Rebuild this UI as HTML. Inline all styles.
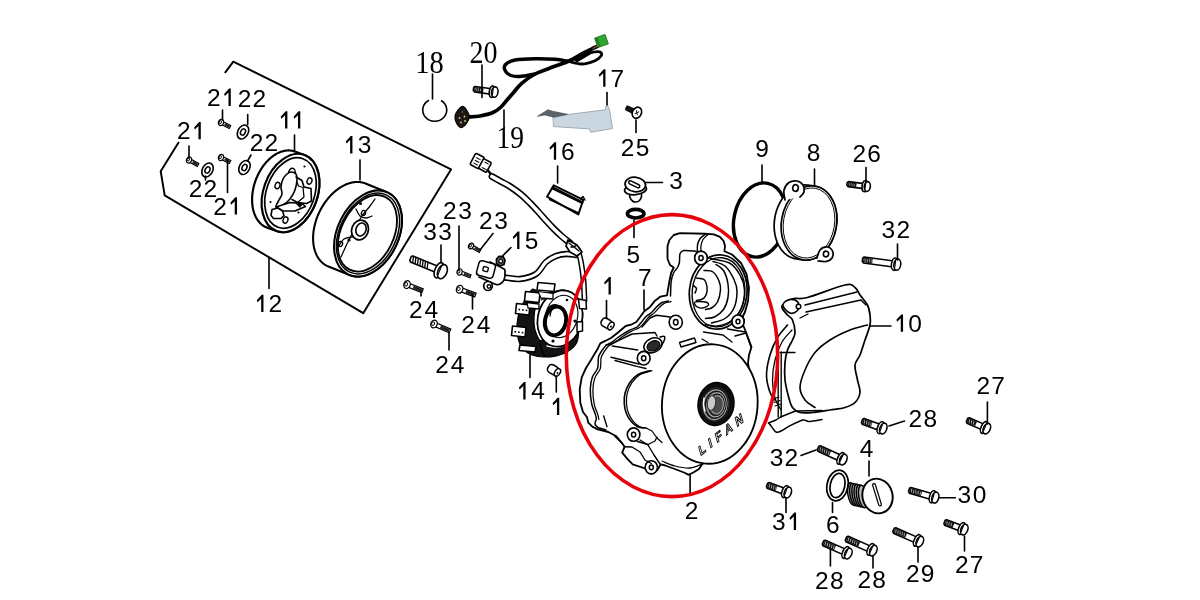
<!DOCTYPE html>
<html><head><meta charset="utf-8"><style>
html,body{margin:0;padding:0;background:#fff;}
svg{display:block;} text{-webkit-font-smoothing:antialiased;}
</style></head><body>
<svg width="1200" height="600" viewBox="0 0 1200 600" font-family="Liberation Sans, sans-serif" style="will-change:transform">
<rect width="1200" height="600" fill="#fff"/>
<path d="M225.3 72.3 L233.3 61.7 L451 169.4 L363.2 313.2 L164.7 195.3 L160.7 171.3 L178.4 142.7" fill="none" stroke="#000" stroke-width="1.95" stroke-linejoin="round" stroke-linecap="round" />
<path d="M429 100.2 A12 11.2 0 1 0 441 100.5" fill="none" stroke="#000" stroke-width="1.6"/>
<path d="M468 117 C470 116.83 475.83 116.75 480 116 C484.17 115.25 489.5 114 493 112.5 C496.5 111 498.67 109.08 501 107 C503.33 104.92 504.83 102.5 507 100 C509.17 97.5 511.55 94.78 514 92 C516.45 89.22 518.2 86.3 521.7 83.3 C525.2 80.3 530.57 76.43 535 74 C539.43 71.57 542.75 70.82 548.3 68.7 C553.85 66.58 562.73 63.75 568.3 61.3 C573.87 58.85 577.92 56 581.7 54 C585.48 52 588.45 50.55 591 49.3 C593.55 48.05 596 46.97 597 46.5" fill="none" stroke="#000" stroke-width="3.68" stroke-linejoin="round" stroke-linecap="round" />
<path d="M568.3 61.3 C566.08 60.97 560.55 59.73 555 59.3 C549.45 58.87 541.67 58.58 535 58.7 C528.33 58.82 519.67 59.23 515 60 C510.33 60.77 508.78 62.13 507 63.3 C505.22 64.47 504.47 65.55 504.3 67 C504.13 68.45 504.88 70.58 506 72 C507.12 73.42 509 74.75 511 75.5 C513 76.25 515.12 76.53 518 76.5 C520.88 76.47 525.47 75.72 528.3 75.3 C531.13 74.88 533.88 74.22 535 74" fill="none" stroke="#000" stroke-width="3.45" stroke-linejoin="round" stroke-linecap="round" />
<path d="M568.3 61.3 C570.53 61.75 577.25 64.1 581.7 64 C586.15 63.9 591.75 62.07 595 60.7 C598.25 59.33 600.28 57.22 601.2 55.8 C602.12 54.38 601.7 52.83 600.5 52.2 C599.3 51.57 597.13 51.48 594 52 C590.87 52.52 585.98 53.75 581.7 55.3 C577.42 56.85 570.53 60.3 568.3 61.3" fill="none" stroke="#000" stroke-width="2.76" stroke-linejoin="round" stroke-linecap="round" />
<path d="M574 59 L590 50 L592 52.5 L577 61.5Z" fill="#000" stroke="#000" stroke-width="1.72" stroke-linejoin="round" stroke-linecap="round" />
<path d="M462.8 106.3 C464.22 106.3 465.42 108.3 466.5 110 C467.58 111.7 469.3 114.25 469.3 116.5 C469.3 118.75 467.88 121.65 466.5 123.5 C465.12 125.35 462.67 127.68 461 127.6 C459.33 127.52 457.5 124.93 456.5 123 C455.5 121.07 454.75 118.17 455 116 C455.25 113.83 456.7 111.62 458 110 C459.3 108.38 461.38 106.3 462.8 106.3Z" fill="#1d1812" stroke="#000" stroke-width="1.15" stroke-linejoin="round" stroke-linecap="round" />
<circle cx="459.5" cy="118" r="0.9" fill="#d8c98a"/><circle cx="464.5" cy="116.5" r="0.9" fill="#d8c98a"/><circle cx="461" cy="122.5" r="0.9" fill="#d8c98a"/><circle cx="465" cy="121" r="0.9" fill="#d8c98a"/><circle cx="462.5" cy="112" r="0.8" fill="#7a6a4a"/>
<g transform="translate(601.5 41) rotate(-20)"><rect x="-5.5" y="-5" width="11" height="10" fill="#2fa52f" stroke="#1b6e1b" stroke-width="0.8"/><rect x="-5.5" y="-5" width="3" height="10" fill="#1f7f1f"/></g>
<path d="M593 48.5 L598 45.5" fill="none" stroke="#8a5a3a" stroke-width="1.38" stroke-linejoin="round" stroke-linecap="round" />
<path d="M553.25 116.5 L567.5 114.6 L605.75 109.75 L605.75 106 L608 106 L609.5 109.75 L612.5 128.5 L590.75 132.25 L589.25 128.9 L554 126.6Z" fill="#cbd7e0" stroke="#97a5b1" stroke-width="0.92" stroke-linejoin="round" stroke-linecap="round" />
<path d="M537.9 116.1 L548 109.75 L552.5 111.25 L567.5 114.25 L554 117.25 L545 115Z" fill="#5d646c" stroke="#444a50" stroke-width="0.69" stroke-linejoin="round" stroke-linecap="round" />
<g transform="translate(631 110) rotate(25)"><rect x="-6" y="-2.8" width="10" height="5.6" rx="2" fill="#111"/><ellipse cx="6.5" cy="0" rx="4.5" ry="5.8" fill="#fff" stroke="#000" stroke-width="1.6"/><path d="M5 -2 L8 2 M5 2 L8 -2" stroke="#000" stroke-width="0.9"/></g>
<path d="M553.75 185.3 L583.3 199.8 L578.3 214.5 L547 196.7Z" fill="#fff" stroke="#000" stroke-width="1.95" stroke-linejoin="round" stroke-linecap="round" />
<path d="M553 188.2 L582 202.5" fill="none" stroke="#000" stroke-width="2.99" stroke-linejoin="round" stroke-linecap="round" />
<path d="M549.5 199.5 L577.5 212.5" fill="none" stroke="#000" stroke-width="1.49" stroke-linejoin="round" stroke-linecap="round" />
<path d="M580.5 199 L583 196.5 L585 200" fill="none" stroke="#000" stroke-width="1.49" stroke-linejoin="round" stroke-linecap="round" />
<g transform="translate(481 163.5) rotate(28)"><rect x="-9.5" y="-6.8" width="10" height="12.8" rx="1.5" fill="#fff" stroke="#000" stroke-width="1.6"/><rect x="0" y="-5.6" width="9" height="11" rx="1.2" fill="#fff" stroke="#000" stroke-width="1.6"/><path d="M-7 -3 L-2 -3 M-7 0 L-2 0 M-7 3 L-2 3 M2.5 -3 L7 -3 M2.5 3 L7 3" stroke="#000" stroke-width="1"/></g>
<path d="M487.5 170 L493 176.5" fill="none" stroke="#000" stroke-width="2.53" stroke-linejoin="round" stroke-linecap="round" />
<path d="M492 176.5 C493.33 177.25 497 179.33 500 181 C503 182.67 506.5 184.25 510 186.5 C513.5 188.75 517.67 191.75 521 194.5 C524.33 197.25 527.17 200.17 530 203 C532.83 205.83 535.33 208.58 538 211.5 C540.67 214.42 543.33 217.58 546 220.5 C548.67 223.42 551.33 226.33 554 229 C556.67 231.67 559.33 234.17 562 236.5 C564.67 238.83 568.67 241.92 570 243" fill="none" stroke="#000" stroke-width="6.9" stroke-linejoin="round" stroke-linecap="round" />
<path d="M492 176.5 C493.33 177.25 497 179.33 500 181 C503 182.67 506.5 184.25 510 186.5 C513.5 188.75 517.67 191.75 521 194.5 C524.33 197.25 527.17 200.17 530 203 C532.83 205.83 535.33 208.58 538 211.5 C540.67 214.42 543.33 217.58 546 220.5 C548.67 223.42 551.33 226.33 554 229 C556.67 231.67 559.33 234.17 562 236.5 C564.67 238.83 568.67 241.92 570 243" fill="none" stroke="#fff" stroke-width="3.68" stroke-linejoin="round" stroke-linecap="round" />
<path d="M505 277.5 C507.5 277.75 514.83 279.58 520 279 C525.17 278.42 531.67 276.83 536 274 C540.33 271.17 542.67 265 546 262 C549.33 259 552.67 257.33 556 256 C559.33 254.67 562.67 254.17 566 254 C569.33 253.83 574.33 254.83 576 255" fill="none" stroke="#000" stroke-width="6.32" stroke-linejoin="round" stroke-linecap="round" />
<path d="M505 277.5 C507.5 277.75 514.83 279.58 520 279 C525.17 278.42 531.67 276.83 536 274 C540.33 271.17 542.67 265 546 262 C549.33 259 552.67 257.33 556 256 C559.33 254.67 562.67 254.17 566 254 C569.33 253.83 574.33 254.83 576 255" fill="none" stroke="#fff" stroke-width="3.22" stroke-linejoin="round" stroke-linecap="round" />
<path d="M578 250 C578.5 252 580.08 257 581 262 C581.92 267 582.92 273.67 583.5 280 C584.08 286.33 584.33 296.67 584.5 300" fill="none" stroke="#000" stroke-width="5.75" stroke-linejoin="round" stroke-linecap="round" />
<path d="M578 250 C578.5 252 580.08 257 581 262 C581.92 267 582.92 273.67 583.5 280 C584.08 286.33 584.33 296.67 584.5 300" fill="none" stroke="#fff" stroke-width="2.76" stroke-linejoin="round" stroke-linecap="round" />
<path d="M568 240 L577 245 L582 252 L577 256 L570 252 L566 246Z" fill="#fff" stroke="#000" stroke-width="1.72" stroke-linejoin="round" stroke-linecap="round" />
<path d="M569 243 L579 251 M571 247 L576 246" fill="none" stroke="#000" stroke-width="1.38" stroke-linejoin="round" stroke-linecap="round" />
<path d="M490 262 C492.17 263.08 500.5 267 503 268.5 C505.5 270 504.83 269.08 505 271 C505.17 272.92 504.83 277.83 504 280 C503.17 282.17 501.33 283.25 500 284 C498.67 284.75 498 285 496 284.5 C494 284 490.83 282.25 488 281 C485.17 279.75 480.5 277.67 479 277" fill="#fff" stroke="#000" stroke-width="1.72" stroke-linejoin="round" stroke-linecap="round" />
<g transform="translate(486 269.5) rotate(15)"><rect x="-8.5" y="-7.5" width="17" height="15" rx="3" fill="#fff" stroke="#000" stroke-width="1.5"/><rect x="-3" y="-2.5" width="5" height="4.5" rx="1" fill="#fff" stroke="#000" stroke-width="1.4"/></g>
<path d="M496.5 259 L499 256.3 L503 256.5 L505 260 L504 264.5 L500 266 L496.5 263.5Z" fill="#777" stroke="#000" stroke-width="1.72" stroke-linejoin="round" stroke-linecap="round" />
<ellipse cx="500.7" cy="261.2" rx="1.8" ry="2" fill="#fff" stroke="#000" stroke-width="1.26"/>
<ellipse cx="488" cy="286" rx="4.3" ry="4.5" fill="#fff" stroke="#000" stroke-width="1.72"/>
<ellipse cx="489" cy="286.5" rx="1.8" ry="1.8" fill="#fff" stroke="#000" stroke-width="1.38"/>
<g transform="translate(607 323.5) rotate(32)"><rect x="-6" y="-4.3" width="11" height="8.6" rx="3.5" fill="#fff" stroke="#000" stroke-width="1.6"/><ellipse cx="4.6" cy="0" rx="2.6" ry="4.2" fill="#fff" stroke="#000" stroke-width="1.5"/><circle cx="5" cy="0.5" r="1" fill="#000"/></g>
<g transform="translate(553.5 370) rotate(32)"><rect x="-6" y="-4.3" width="11" height="8.6" rx="3.5" fill="#fff" stroke="#000" stroke-width="1.6"/><ellipse cx="4.6" cy="0" rx="2.6" ry="4.2" fill="#fff" stroke="#000" stroke-width="1.5"/><circle cx="5" cy="0.5" r="1" fill="#000"/></g>
<path d="M630 193 C629.97 193.67 629.38 195.67 629.8 197 C630.22 198.33 631.47 200.17 632.5 201 C633.53 201.83 634.83 202.08 636 202 C637.17 201.92 638.58 201.42 639.5 200.5 C640.42 199.58 641.22 197.75 641.5 196.5 C641.78 195.25 641.25 193.58 641.2 193" fill="#fff" stroke="#000" stroke-width="1.61" stroke-linejoin="round" stroke-linecap="round" />
<ellipse cx="635.5" cy="189.5" rx="11" ry="5.2" fill="#fff" stroke="#000" stroke-width="1.72" transform="rotate(-6 635.5 189.5)"/>
<ellipse cx="635.3" cy="184.5" rx="10.3" ry="7.2" fill="#fff" stroke="#000" stroke-width="1.72" transform="rotate(8 635.3 184.5)"/>
<g transform="translate(634.2 184.3) rotate(26)"><rect x="-6" y="-1.6" width="12" height="3.2" rx="1.6" fill="#fff" stroke="#000" stroke-width="1.5"/></g>
<ellipse cx="635.7" cy="213.7" rx="8.2" ry="4.3" fill="none" stroke="#000" stroke-width="3.68"/>
<ellipse cx="760" cy="220" rx="26" ry="37.5" fill="none" stroke="#000" stroke-width="3.45" transform="rotate(12 760 220)"/>
<path d="M803 259.81 L796 258.81 L795.52 258.73 L795.05 258.64 L794.58 258.54 L794.11 258.43 L793.65 258.31 L793.19 258.18 L792.73 258.03 L792.27 257.88 L791.82 257.71 L791.37 257.53 L790.92 257.35 L790.47 257.15 L790.03 256.94 L789.6 256.72 L789.16 256.49 L788.73 256.25 L788.31 255.99 L787.89 255.73 L787.47 255.46 L787.06 255.18 L786.65 254.88 L786.25 254.58 L785.85 254.27 L785.46 253.95 L785.07 253.62 L784.68 253.27 L784.31 252.92 L783.93 252.56 L783.57 252.19 L783.21 251.81 L782.85 251.42 L782.5 251.03 L782.16 250.62 L781.82 250.21 L781.49 249.78 L781.16 249.35 L780.84 248.91 L780.53 248.46 L780.22 248.01 L779.92 247.54 L779.63 247.07 L779.34 246.59 L779.07 246.1 L778.79 245.61 L778.53 245.11 L778.27 244.6 L778.02 244.08 L777.78 243.56 L777.54 243.03 L777.31 242.5 L777.09 241.95 L776.88 241.41 L776.67 240.85 L776.47 240.29 L776.28 239.73 L776.1 239.16 L775.93 238.58 L775.76 238 L775.6 237.42 L775.45 236.83 L775.31 236.23 L775.17 235.63 L775.05 235.03 L774.93 234.42 L774.82 233.81 L774.72 233.2 L774.62 232.58 L774.54 231.96 L774.46 231.33 L774.4 230.71 L774.34 230.08 L774.28 229.44 L774.24 228.81 L774.21 228.17 L774.18 227.53 L774.16 226.89 L774.16 226.25 L774.15 225.61 L774.16 224.97 L774.18 224.32 L774.2 223.68 L774.24 223.03 L774.28 222.38 L774.33 221.74 L774.39 221.09 L774.46 220.44 L774.53 219.8 L774.62 219.15 L774.71 218.51 L774.81 217.87 L774.92 217.22 L775.03 216.58 L775.16 215.95 L775.29 215.31 L775.44 214.67 L775.59 214.04 L775.74 213.41 L775.91 212.78 L776.08 212.16 L776.26 211.54 L776.45 210.92 L776.65 210.3 L776.86 209.69 L777.07 209.08 L777.29 208.48 L777.52 207.88 L777.75 207.28 L777.99 206.69 L778.24 206.11 L778.5 205.53 L778.77 204.95 L779.04 204.38 L779.32 203.81 L779.6 203.25 L779.89 202.7 L780.19 202.15 L780.5 201.61 L780.81 201.07 L781.13 200.54 L781.45 200.01 L781.78 199.5 L782.12 198.99 L782.47 198.48 L782.81 197.99 L783.17 197.5 L783.53 197.02 L783.9 196.55 L784.27 196.08 L784.65 195.62 L785.03 195.17 L785.42 194.73 L785.81 194.3 L786.21 193.87 L786.61 193.46 L787.02 193.05 L787.43 192.65 L787.85 192.26 L788.27 191.88 L788.69 191.51 L789.12 191.14 L789.55 190.79 L789.99 190.45 L790.43 190.11 L790.87 189.79 L791.32 189.48 L791.77 189.17 L792.23 188.88 L792.68 188.59 L793.14 188.32 L793.6 188.05 L794.07 187.8 L794.54 187.56 L795 187.32 L795.48 187.1 L795.95 186.89 L796.42 186.69 L796.9 186.5 L797.38 186.32 L797.86 186.15 L798.34 186 L798.82 185.85 L799.31 185.71 L799.79 185.59 L800.28 185.48 L800.76 185.37 L801.25 185.28 L801.73 185.2 L802.22 185.13 L802.7 185.08 L803.19 185.03 L803.68 185 L804.16 184.97 L804.64 184.96 L805.13 184.96 L805.61 184.97 L806.09 184.99 L806.57 185.02 L807.05 185.07 L807.53 185.12 L808 185.19 L815 186.19 L815.48 186.27 L815.95 186.36 L816.42 186.46 L816.89 186.57 L817.35 186.69 L817.81 186.82 L818.27 186.97 L818.73 187.12 L819.18 187.29 L819.63 187.47 L820.08 187.65 L820.53 187.85 L820.97 188.06 L821.4 188.28 L821.84 188.51 L822.27 188.75 L822.69 189.01 L823.11 189.27 L823.53 189.54 L823.94 189.82 L824.35 190.12 L824.75 190.42 L825.15 190.73 L825.54 191.05 L825.93 191.38 L826.32 191.73 L826.69 192.08 L827.07 192.44 L827.43 192.81 L827.79 193.19 L828.15 193.58 L828.5 193.97 L828.84 194.38 L829.18 194.79 L829.51 195.22 L829.84 195.65 L830.16 196.09 L830.47 196.54 L830.78 196.99 L831.08 197.46 L831.37 197.93 L831.66 198.41 L831.93 198.9 L832.21 199.39 L832.47 199.89 L832.73 200.4 L832.98 200.92 L833.22 201.44 L833.46 201.97 L833.69 202.5 L833.91 203.05 L834.12 203.59 L834.33 204.15 L834.53 204.71 L834.72 205.27 L834.9 205.84 L835.07 206.42 L835.24 207 L835.4 207.58 L835.55 208.17 L835.69 208.77 L835.83 209.37 L835.95 209.97 L836.07 210.58 L836.18 211.19 L836.28 211.8 L836.38 212.42 L836.46 213.04 L836.54 213.67 L836.6 214.29 L836.66 214.92 L836.72 215.56 L836.76 216.19 L836.79 216.83 L836.82 217.47 L836.84 218.11 L836.84 218.75 L836.85 219.39 L836.84 220.03 L836.82 220.68 L836.8 221.32 L836.76 221.97 L836.72 222.62 L836.67 223.26 L836.61 223.91 L836.54 224.56 L836.47 225.2 L836.38 225.85 L836.29 226.49 L836.19 227.13 L836.08 227.78 L835.97 228.42 L835.84 229.05 L835.71 229.69 L835.56 230.33 L835.41 230.96 L835.26 231.59 L835.09 232.22 L834.92 232.84 L834.74 233.46 L834.55 234.08 L834.35 234.7 L834.14 235.31 L833.93 235.92 L833.71 236.52 L833.48 237.12 L833.25 237.72 L833.01 238.31 L832.76 238.89 L832.5 239.47 L832.23 240.05 L831.96 240.62 L831.68 241.19 L831.4 241.75 L831.11 242.3 L830.81 242.85 L830.5 243.39 L830.19 243.93 L829.87 244.46 L829.55 244.99 L829.22 245.5 L828.88 246.01 L828.53 246.52 L828.19 247.01 L827.83 247.5 L827.47 247.98 L827.1 248.45 L826.73 248.92 L826.35 249.38 L825.97 249.83 L825.58 250.27 L825.19 250.7 L824.79 251.13 L824.39 251.54 L823.98 251.95 L823.57 252.35 L823.15 252.74 L822.73 253.12 L822.31 253.49 L821.88 253.86 L821.45 254.21 L821.01 254.55 L820.57 254.89 L820.13 255.21 L819.68 255.52 L819.23 255.83 L818.77 256.12 L818.32 256.41 L817.86 256.68 L817.4 256.95 L816.93 257.2 L816.46 257.44 L816 257.68 L815.52 257.9 L815.05 258.11 L814.58 258.31 L814.1 258.5 L813.62 258.68 L813.14 258.85 L812.66 259 L812.18 259.15 L811.69 259.29 L811.21 259.41 L810.72 259.52 L810.24 259.63 L809.75 259.72 L809.27 259.8 L808.78 259.87 L808.3 259.92 L807.81 259.97 L807.32 260 L806.84 260.03 L806.36 260.04 L805.87 260.04 L805.39 260.03 L804.91 260.01 L804.43 259.98 L803.95 259.93 L803.47 259.88Z" fill="#fff" stroke="#000" stroke-width="1.72" stroke-linejoin="round" stroke-linecap="round" />
<ellipse cx="809" cy="223" rx="27.5" ry="37.3" fill="#fff" stroke="#000" stroke-width="1.72" transform="rotate(10 809 223)"/>
<ellipse cx="809" cy="223" rx="25.5" ry="35.3" fill="none" stroke="#000" stroke-width="0.92" transform="rotate(10 809 223)"/>
<path d="M785 200 C784.83 198.33 783.33 192.92 784 190 C784.67 187.08 786.83 184 789 182.5 C791.17 181 794.67 180.58 797 181 C799.33 181.42 801.83 183.17 803 185 C804.17 186.83 804.5 190 804 192 C803.5 194 800.67 196.17 800 197" fill="#fff" stroke="#000" stroke-width="1.72" stroke-linejoin="round" stroke-linecap="round" />
<ellipse cx="795.5" cy="188" rx="2.8" ry="3.3" fill="#fff" stroke="#000" stroke-width="1.61" transform="rotate(10 795.5 188)"/>
<path d="M817 258 C817.5 256.67 818.33 251.83 820 250 C821.67 248.17 824.92 246.83 827 247 C829.08 247.17 831.67 249.17 832.5 251 C833.33 252.83 833.08 256.25 832 258 C830.92 259.75 828.33 261 826 261.5 C823.67 262 819.33 261.08 818 261" fill="#fff" stroke="#000" stroke-width="1.72" stroke-linejoin="round" stroke-linecap="round" />
<ellipse cx="826" cy="254" rx="2.6" ry="2.8" fill="#fff" stroke="#000" stroke-width="1.61" transform="rotate(10 826 254)"/>
<path d="M787.5 325 C785.83 327.08 780.42 332.5 777.5 337.5 C774.58 342.5 771.83 348.75 770 355 C768.17 361.25 766.58 369 766.5 375 C766.42 381 768.17 386.83 769.5 391 C770.83 395.17 773.67 398.5 774.5 400" fill="none" stroke="#000" stroke-width="1.61" stroke-linejoin="round" stroke-linecap="round" />
<path d="M792 330 C790.33 332 784.83 337 782 342 C779.17 347 776.58 353.67 775 360 C773.42 366.33 772.5 373.67 772.5 380 C772.5 386.33 773.58 393 775 398 C776.42 403 780 408 781 410" fill="none" stroke="#000" stroke-width="1.26" stroke-linejoin="round" stroke-linecap="round" />
<path d="M807.5 297.5 C816.25 295.21 837.08 286.67 845 285 C852.92 283.33 852.5 285.83 855 287.5 C857.5 289.17 857.92 292.08 860 295 C862.08 297.92 865.83 301.67 867.5 305 C869.17 308.33 869.58 311.67 870 315 C870.42 318.33 870.83 320.83 870 325 C869.17 329.17 866.67 335 865 340 C863.33 345 861.67 350.83 860 355 C858.33 359.17 855.42 360.83 855 365 C854.58 369.17 856.67 375.42 857.5 380 C858.33 384.58 860.42 388.75 860 392.5 C859.58 396.25 857.5 400 855 402.5 C852.5 405 849.17 406.25 845 407.5 C840.83 408.75 835.42 409.17 830 410 C824.58 410.83 817.5 412.08 812.5 412.5 C807.5 412.92 803.33 413.33 800 412.5 C796.67 411.67 794.38 410 792.5 407.5 C790.62 405 790 402.08 788.75 397.5 C787.5 392.92 785.62 385.83 785 380 C784.38 374.17 784.58 367.5 785 362.5 C785.42 357.5 786.25 353.75 787.5 350 C788.75 346.25 791.25 342.92 792.5 340 C793.75 337.08 795 335.83 795 332.5 C795 329.17 793.75 322.92 792.5 320 C791.25 317.08 789.17 316.88 787.5 315 C785.83 313.12 783.33 310.42 782.5 308.75 C781.67 307.08 780.83 306.67 782.5 305 C784.17 303.33 788.33 300 792.5 298.75 C796.67 297.5 798.75 299.79 807.5 297.5Z" fill="#fff" stroke="#000" stroke-width="1.72" stroke-linejoin="round" stroke-linecap="round" />
<path d="M867.5 325 C864.58 325.83 856.25 327.5 850 330 C843.75 332.5 835.83 336.25 830 340 C824.17 343.75 819.17 347.5 815 352.5 C810.83 357.5 807.5 364.17 805 370 C802.5 375.83 800 382.5 800 387.5 C800 392.5 802.5 396.67 805 400 C807.5 403.33 813.33 406.25 815 407.5" fill="none" stroke="#000" stroke-width="1.61" stroke-linejoin="round" stroke-linecap="round" />
<path d="M805 305 L857 292" fill="none" stroke="#000" stroke-width="1.49" stroke-linejoin="round" stroke-linecap="round" />
<path d="M806 312 L861 300 L866 305" fill="none" stroke="#000" stroke-width="1.49" stroke-linejoin="round" stroke-linecap="round" />
<path d="M800 318 L808 314" fill="none" stroke="#000" stroke-width="1.38" stroke-linejoin="round" stroke-linecap="round" />
<path d="M780 352.5 L795 352.5" fill="none" stroke="#000" stroke-width="1.38" stroke-linejoin="round" stroke-linecap="round" />
<path d="M778.2 352 L778.2 417" fill="none" stroke="#000" stroke-width="1.38" stroke-linejoin="round" stroke-linecap="round" />
<path d="M781.2 352 L781.2 417" fill="none" stroke="#000" stroke-width="1.38" stroke-linejoin="round" stroke-linecap="round" />
<path d="M768.5 423 L776 420 L780.5 417 L795.5 411 L822 410.5" fill="none" stroke="#000" stroke-width="1.49" stroke-linejoin="round" stroke-linecap="round" />
<path d="M770 424.5 C771 425.75 774 431 776 432 C778 433 779.75 431.5 782 430.5 C784.25 429.5 786 427.75 789.5 426 C793 424.25 799.75 420.75 803 420 C806.25 419.25 805.83 421.58 809 421.5 C812.17 421.42 819.83 419.83 822 419.5" fill="none" stroke="#000" stroke-width="1.49" stroke-linejoin="round" stroke-linecap="round" />
<path d="M768.5 423 L770 424.5" fill="none" stroke="#000" stroke-width="1.49" stroke-linejoin="round" stroke-linecap="round" />
<path d="M773 399 L779 397 M774 402.5 L780 400.5 M775 406 L781 404" fill="none" stroke="#000" stroke-width="1.15" stroke-linejoin="round" stroke-linecap="round" />
<path d="M783 306 C782.5 303.92 785 301.5 787 300.5 C789 299.5 793 299.25 795 300 C797 300.75 798.67 303.17 799 305 C799.33 306.83 798.5 309.67 797 311 C795.5 312.33 792.33 313.83 790 313 C787.67 312.17 783.5 308.08 783 306Z" fill="#fff" stroke="#000" stroke-width="1.61" stroke-linejoin="round" stroke-linecap="round" />
<ellipse cx="798.5" cy="306.5" rx="2.3" ry="2.3" fill="#fff" stroke="#000" stroke-width="1.49"/>
<ellipse cx="852" cy="494" rx="4.2" ry="11.5" fill="#bbb" stroke="#000" stroke-width="1.49" transform="rotate(-10 852 494)"/>
<ellipse cx="854.2" cy="494.5" rx="4.2" ry="11.5" fill="#bbb" stroke="#000" stroke-width="1.49" transform="rotate(-10 854.2 494.5)"/>
<ellipse cx="856.4" cy="495" rx="4.2" ry="11.5" fill="#bbb" stroke="#000" stroke-width="1.49" transform="rotate(-10 856.4 495)"/>
<ellipse cx="858.6" cy="495.5" rx="4.2" ry="11.5" fill="#bbb" stroke="#000" stroke-width="1.49" transform="rotate(-10 858.6 495.5)"/>
<ellipse cx="860.8" cy="496" rx="4.2" ry="11.5" fill="#bbb" stroke="#000" stroke-width="1.49" transform="rotate(-10 860.8 496)"/>
<ellipse cx="863" cy="496.5" rx="4.2" ry="11.5" fill="#bbb" stroke="#000" stroke-width="1.49" transform="rotate(-10 863 496.5)"/>
<ellipse cx="877.5" cy="496" rx="15" ry="17.5" fill="#fff" stroke="#000" stroke-width="1.95" transform="rotate(-15 877.5 496)"/>
<path d="M874 485 L880 504.5" fill="none" stroke="#000" stroke-width="4.02" stroke-linejoin="round" stroke-linecap="round" />
<path d="M874 485 L880 504.5" fill="none" stroke="#fff" stroke-width="1.49" stroke-linejoin="round" stroke-linecap="round" />
<ellipse cx="837.5" cy="485.5" rx="10.5" ry="15.5" fill="none" stroke="#000" stroke-width="1.72" transform="rotate(12 837.5 485.5)"/>
<ellipse cx="837.5" cy="485.5" rx="7.3" ry="12.3" fill="none" stroke="#000" stroke-width="1.72" transform="rotate(12 837.5 485.5)"/>
<ellipse cx="243" cy="132" rx="5.2" ry="7.4" fill="#fff" stroke="#000" stroke-width="1.61" transform="rotate(28 243 132)"/>
<ellipse cx="243" cy="132" rx="2.3" ry="3.3" fill="none" stroke="#000" stroke-width="1.49" transform="rotate(28 243 132)"/>
<ellipse cx="244.5" cy="167.5" rx="5.2" ry="7.4" fill="#fff" stroke="#000" stroke-width="1.61" transform="rotate(28 244.5 167.5)"/>
<ellipse cx="244.5" cy="167.5" rx="2.3" ry="3.3" fill="none" stroke="#000" stroke-width="1.49" transform="rotate(28 244.5 167.5)"/>
<ellipse cx="207.5" cy="170" rx="5.2" ry="7.4" fill="#fff" stroke="#000" stroke-width="1.61" transform="rotate(28 207.5 170)"/>
<ellipse cx="207.5" cy="170" rx="2.3" ry="3.3" fill="none" stroke="#000" stroke-width="1.49" transform="rotate(28 207.5 170)"/>
<path d="M365.48 183.46 L386.48 191.96 L386.98 192.16 L387.46 192.38 L387.95 192.6 L388.42 192.84 L388.89 193.1 L389.35 193.36 L389.81 193.64 L390.26 193.93 L390.7 194.23 L391.14 194.54 L391.57 194.86 L391.99 195.2 L392.4 195.55 L392.81 195.91 L393.21 196.28 L393.6 196.66 L393.99 197.05 L394.36 197.46 L394.73 197.87 L395.09 198.3 L395.44 198.74 L395.78 199.19 L396.12 199.64 L396.45 200.11 L396.76 200.59 L397.07 201.08 L397.37 201.58 L397.66 202.09 L397.94 202.6 L398.22 203.13 L398.48 203.67 L398.74 204.21 L398.98 204.77 L399.22 205.33 L399.44 205.9 L399.66 206.48 L399.87 207.07 L400.06 207.67 L400.25 208.27 L400.43 208.89 L400.59 209.51 L400.75 210.13 L400.9 210.77 L401.04 211.41 L401.17 212.06 L401.28 212.71 L401.39 213.37 L401.49 214.04 L401.57 214.71 L401.65 215.39 L401.72 216.07 L401.77 216.76 L401.82 217.46 L401.86 218.15 L401.88 218.86 L401.9 219.57 L401.9 220.28 L401.9 221 L401.88 221.72 L401.85 222.44 L401.82 223.17 L401.77 223.9 L401.71 224.63 L401.65 225.37 L401.57 226.11 L401.48 226.85 L401.38 227.59 L401.27 228.33 L401.16 229.08 L401.03 229.83 L400.89 230.58 L400.74 231.33 L400.58 232.08 L400.41 232.83 L400.24 233.58 L400.05 234.33 L399.85 235.08 L399.64 235.83 L399.42 236.58 L399.2 237.33 L398.96 238.08 L398.72 238.82 L398.46 239.57 L398.2 240.31 L397.92 241.05 L397.64 241.79 L397.35 242.52 L397.05 243.26 L396.74 243.99 L396.42 244.71 L396.09 245.43 L395.76 246.15 L395.41 246.87 L395.06 247.58 L394.7 248.29 L394.33 248.99 L393.96 249.69 L393.57 250.38 L393.18 251.07 L392.78 251.75 L392.37 252.43 L391.96 253.1 L391.53 253.77 L391.1 254.43 L390.67 255.08 L390.22 255.73 L389.77 256.37 L389.32 257 L388.85 257.62 L388.38 258.24 L387.91 258.85 L387.43 259.46 L386.94 260.05 L386.44 260.64 L385.95 261.22 L385.44 261.79 L384.93 262.35 L384.42 262.9 L383.9 263.44 L383.37 263.98 L382.84 264.5 L382.31 265.02 L381.77 265.53 L381.22 266.02 L380.68 266.51 L380.13 266.99 L379.57 267.45 L379.02 267.91 L378.45 268.35 L377.89 268.79 L377.32 269.21 L376.75 269.63 L376.18 270.03 L375.6 270.42 L375.03 270.8 L374.45 271.17 L373.86 271.53 L373.28 271.87 L372.69 272.21 L372.11 272.53 L371.52 272.84 L370.93 273.14 L370.34 273.42 L369.75 273.7 L369.16 273.96 L368.57 274.21 L367.98 274.44 L367.38 274.67 L366.79 274.88 L366.2 275.08 L365.61 275.27 L365.02 275.44 L364.43 275.6 L363.85 275.75 L363.26 275.89 L362.67 276.01 L362.09 276.12 L361.51 276.21 L360.93 276.3 L360.35 276.37 L359.78 276.43 L359.2 276.47 L358.63 276.5 L358.07 276.52 L357.5 276.53 L356.94 276.52 L356.38 276.5 L355.83 276.46 L355.28 276.41 L354.73 276.35 L354.19 276.28 L353.65 276.19 L353.12 276.1 L352.59 275.98 L352.06 275.86 L351.54 275.72 L351.03 275.57 L350.52 275.4 L350.01 275.23 L349.52 275.04 L328.52 266.54 L328.02 266.34 L327.54 266.12 L327.05 265.9 L326.58 265.66 L326.11 265.4 L325.65 265.14 L325.19 264.86 L324.74 264.57 L324.3 264.27 L323.86 263.96 L323.43 263.64 L323.01 263.3 L322.6 262.95 L322.19 262.59 L321.79 262.22 L321.4 261.84 L321.01 261.45 L320.64 261.04 L320.27 260.63 L319.91 260.2 L319.56 259.76 L319.22 259.31 L318.88 258.86 L318.55 258.39 L318.24 257.91 L317.93 257.42 L317.63 256.92 L317.34 256.41 L317.06 255.9 L316.78 255.37 L316.52 254.83 L316.26 254.29 L316.02 253.73 L315.78 253.17 L315.56 252.6 L315.34 252.02 L315.13 251.43 L314.94 250.83 L314.75 250.23 L314.57 249.61 L314.41 248.99 L314.25 248.37 L314.1 247.73 L313.96 247.09 L313.83 246.44 L313.72 245.79 L313.61 245.13 L313.51 244.46 L313.43 243.79 L313.35 243.11 L313.28 242.43 L313.23 241.74 L313.18 241.04 L313.14 240.35 L313.12 239.64 L313.1 238.93 L313.1 238.22 L313.1 237.5 L313.12 236.78 L313.15 236.06 L313.18 235.33 L313.23 234.6 L313.29 233.87 L313.35 233.13 L313.43 232.39 L313.52 231.65 L313.62 230.91 L313.73 230.17 L313.84 229.42 L313.97 228.67 L314.11 227.92 L314.26 227.17 L314.42 226.42 L314.59 225.67 L314.76 224.92 L314.95 224.17 L315.15 223.42 L315.36 222.67 L315.58 221.92 L315.8 221.17 L316.04 220.42 L316.28 219.68 L316.54 218.93 L316.8 218.19 L317.08 217.45 L317.36 216.71 L317.65 215.98 L317.95 215.24 L318.26 214.51 L318.58 213.79 L318.91 213.07 L319.24 212.35 L319.59 211.63 L319.94 210.92 L320.3 210.21 L320.67 209.51 L321.04 208.81 L321.43 208.12 L321.82 207.43 L322.22 206.75 L322.63 206.07 L323.04 205.4 L323.47 204.73 L323.9 204.07 L324.33 203.42 L324.78 202.77 L325.23 202.13 L325.68 201.5 L326.15 200.88 L326.62 200.26 L327.09 199.65 L327.57 199.04 L328.06 198.45 L328.56 197.86 L329.05 197.28 L329.56 196.71 L330.07 196.15 L330.58 195.6 L331.1 195.06 L331.63 194.52 L332.16 194 L332.69 193.48 L333.23 192.97 L333.78 192.48 L334.32 191.99 L334.87 191.51 L335.43 191.05 L335.98 190.59 L336.55 190.15 L337.11 189.71 L337.68 189.29 L338.25 188.87 L338.82 188.47 L339.4 188.08 L339.97 187.7 L340.55 187.33 L341.14 186.97 L341.72 186.63 L342.31 186.29 L342.89 185.97 L343.48 185.66 L344.07 185.36 L344.66 185.08 L345.25 184.8 L345.84 184.54 L346.43 184.29 L347.02 184.06 L347.62 183.83 L348.21 183.62 L348.8 183.42 L349.39 183.23 L349.98 183.06 L350.57 182.9 L351.15 182.75 L351.74 182.61 L352.33 182.49 L352.91 182.38 L353.49 182.29 L354.07 182.2 L354.65 182.13 L355.22 182.07 L355.8 182.03 L356.37 182 L356.93 181.98 L357.5 181.97 L358.06 181.98 L358.62 182 L359.17 182.04 L359.72 182.09 L360.27 182.15 L360.81 182.22 L361.35 182.31 L361.88 182.4 L362.41 182.52 L362.94 182.64 L363.46 182.78 L363.97 182.93 L364.48 183.1 L364.99 183.27Z" fill="#fff" stroke="#000" stroke-width="2.07" stroke-linejoin="round" stroke-linecap="round" />
<ellipse cx="368" cy="233.5" rx="30.5" ry="45.5" fill="#fff" stroke="#000" stroke-width="2.07" transform="rotate(26 368 233.5)"/>
<ellipse cx="368" cy="233.5" rx="28.3" ry="42.7" fill="none" stroke="#000" stroke-width="1.49" transform="rotate(26 368 233.5)"/>
<ellipse cx="367.4" cy="233.3" rx="26.3" ry="40.5" fill="none" stroke="#000" stroke-width="1.84" transform="rotate(26 367.4 233.3)"/>
<path d="M341 257 C341.83 255.17 344.5 249.17 346 246 C347.5 242.83 348.5 241 350 238 C351.5 235 353 231.67 355 228 C357 224.33 359.5 219.67 362 216 C364.5 212.33 367.83 208.83 370 206 C372.17 203.17 374.17 200.17 375 199" fill="none" stroke="#000" stroke-width="1.26" stroke-linejoin="round" stroke-linecap="round" />
<path d="M338 247 C339 245.67 341.67 240.67 344 239 C346.33 237.33 349.67 237.17 352 237 C354.33 236.83 357 237.83 358 238" fill="none" stroke="#000" stroke-width="1.26" stroke-linejoin="round" stroke-linecap="round" />
<path d="M356 209 C356.67 210.17 358.33 214.5 360 216 C361.67 217.5 364 218 366 218 C368 218 371 216.33 372 216" fill="none" stroke="#000" stroke-width="1.26" stroke-linejoin="round" stroke-linecap="round" />
<ellipse cx="360" cy="230" rx="8.3" ry="10" fill="#fff" stroke="#000" stroke-width="1.72" transform="rotate(20 360 230)"/>
<ellipse cx="361" cy="229.5" rx="5" ry="6.6" fill="#fff" stroke="#000" stroke-width="1.61" transform="rotate(20 361 229.5)"/>
<ellipse cx="363.5" cy="213" rx="2" ry="2.6" fill="none" stroke="#000" stroke-width="1.38" transform="rotate(20 363.5 213)"/>
<ellipse cx="340.5" cy="244" rx="2" ry="2.6" fill="none" stroke="#000" stroke-width="1.38" transform="rotate(20 340.5 244)"/>
<circle cx="360.5" cy="203.5" r="1.5" fill="#000"/><circle cx="349" cy="240" r="1.6" fill="#000"/>
<path d="M304.35 154.94 L304.79 155.11 L305.23 155.29 L305.66 155.48 L306.09 155.68 L306.51 155.89 L306.93 156.12 L307.34 156.35 L307.75 156.6 L308.15 156.86 L308.55 157.12 L308.94 157.4 L309.32 157.69 L309.7 158 L310.08 158.31 L310.45 158.63 L310.81 158.96 L311.16 159.31 L311.51 159.66 L311.86 160.02 L312.19 160.4 L312.52 160.78 L312.85 161.17 L313.16 161.58 L313.47 161.99 L313.78 162.41 L314.07 162.84 L314.36 163.28 L314.64 163.73 L314.92 164.19 L315.18 164.66 L315.44 165.13 L315.69 165.62 L315.94 166.11 L316.17 166.61 L316.4 167.12 L316.62 167.64 L316.83 168.16 L317.04 168.7 L317.23 169.24 L317.42 169.78 L317.6 170.34 L317.77 170.9 L317.93 171.46 L318.09 172.04 L318.24 172.62 L318.37 173.21 L318.5 173.8 L318.62 174.4 L318.74 175 L318.84 175.61 L318.93 176.23 L319.02 176.85 L319.1 177.47 L319.17 178.1 L319.23 178.74 L319.28 179.37 L319.32 180.02 L319.36 180.66 L319.38 181.31 L319.4 181.97 L319.41 182.63 L319.4 183.29 L319.39 183.95 L319.38 184.62 L319.35 185.29 L319.31 185.96 L319.27 186.63 L319.21 187.31 L319.15 187.98 L319.08 188.66 L319 189.34 L318.91 190.02 L318.81 190.7 L318.71 191.39 L318.59 192.07 L318.47 192.75 L318.34 193.44 L318.2 194.12 L318.05 194.8 L317.89 195.49 L317.73 196.17 L317.55 196.85 L317.37 197.53 L317.18 198.21 L316.98 198.88 L316.78 199.56 L316.56 200.23 L316.34 200.9 L316.11 201.57 L315.87 202.23 L315.63 202.9 L315.37 203.56 L315.11 204.21 L314.84 204.87 L314.57 205.52 L314.28 206.16 L313.99 206.8 L313.7 207.44 L313.39 208.07 L313.08 208.7 L312.76 209.33 L312.44 209.95 L312.11 210.56 L311.77 211.17 L311.42 211.77 L311.07 212.37 L310.71 212.96 L310.35 213.54 L309.98 214.12 L309.6 214.69 L309.22 215.26 L308.84 215.82 L308.44 216.37 L308.04 216.92 L307.64 217.45 L307.23 217.98 L306.82 218.51 L306.4 219.02 L305.98 219.53 L305.55 220.03 L305.11 220.52 L304.68 221 L304.23 221.47 L303.79 221.94 L303.34 222.39 L302.88 222.84 L302.43 223.28 L301.97 223.71 L301.5 224.13 L301.03 224.54 L300.56 224.94 L300.09 225.33 L299.61 225.71 L299.13 226.08 L298.65 226.44 L298.16 226.79 L297.67 227.13 L297.18 227.46 L296.69 227.78 L296.2 228.09 L295.7 228.39 L295.2 228.68 L294.71 228.95 L294.21 229.22 L293.71 229.47 L293.2 229.72 L292.7 229.95 L292.2 230.17 L291.69 230.38 L291.19 230.58 L290.69 230.76 L290.18 230.94 L289.68 231.1 L289.17 231.25 L288.67 231.39 L288.17 231.52 L287.66 231.64 L287.16 231.75 L286.66 231.84 L286.16 231.92 L285.66 231.99 L285.17 232.05 L284.67 232.09 L284.18 232.13 L283.69 232.15 L283.2 232.16 L282.71 232.16 L282.23 232.15 L281.74 232.12 L281.26 232.08 L280.79 232.03 L280.31 231.97 L279.84 231.9 L279.38 231.81 L278.91 231.72 L278.45 231.61 L278 231.49 L277.54 231.36 L277.09 231.21 L276.65 231.06 L267.15 227.66 L266.71 227.49 L266.27 227.31 L265.84 227.12 L265.41 226.92 L264.99 226.71 L264.57 226.48 L264.16 226.25 L263.75 226 L263.35 225.74 L262.95 225.48 L262.56 225.2 L262.18 224.91 L261.8 224.6 L261.42 224.29 L261.05 223.97 L260.69 223.64 L260.34 223.29 L259.99 222.94 L259.64 222.58 L259.31 222.2 L258.98 221.82 L258.65 221.43 L258.34 221.02 L258.03 220.61 L257.72 220.19 L257.43 219.76 L257.14 219.32 L256.86 218.87 L256.58 218.41 L256.32 217.94 L256.06 217.47 L255.81 216.98 L255.56 216.49 L255.33 215.99 L255.1 215.48 L254.88 214.96 L254.67 214.44 L254.46 213.9 L254.27 213.36 L254.08 212.82 L253.9 212.26 L253.73 211.7 L253.57 211.14 L253.41 210.56 L253.26 209.98 L253.13 209.39 L253 208.8 L252.88 208.2 L252.76 207.6 L252.66 206.99 L252.57 206.37 L252.48 205.75 L252.4 205.13 L252.33 204.5 L252.27 203.86 L252.22 203.23 L252.18 202.58 L252.14 201.94 L252.12 201.29 L252.1 200.63 L252.09 199.97 L252.1 199.31 L252.11 198.65 L252.12 197.98 L252.15 197.31 L252.19 196.64 L252.23 195.97 L252.29 195.29 L252.35 194.62 L252.42 193.94 L252.5 193.26 L252.59 192.58 L252.69 191.9 L252.79 191.21 L252.91 190.53 L253.03 189.85 L253.16 189.16 L253.3 188.48 L253.45 187.8 L253.61 187.11 L253.77 186.43 L253.95 185.75 L254.13 185.07 L254.32 184.39 L254.52 183.72 L254.72 183.04 L254.94 182.37 L255.16 181.7 L255.39 181.03 L255.63 180.37 L255.87 179.7 L256.13 179.04 L256.39 178.39 L256.66 177.73 L256.93 177.08 L257.22 176.44 L257.51 175.8 L257.8 175.16 L258.11 174.53 L258.42 173.9 L258.74 173.27 L259.06 172.65 L259.39 172.04 L259.73 171.43 L260.08 170.83 L260.43 170.23 L260.79 169.64 L261.15 169.06 L261.52 168.48 L261.9 167.91 L262.28 167.34 L262.66 166.78 L263.06 166.23 L263.46 165.68 L263.86 165.15 L264.27 164.62 L264.68 164.09 L265.1 163.58 L265.52 163.07 L265.95 162.57 L266.39 162.08 L266.82 161.6 L267.27 161.13 L267.71 160.66 L268.16 160.21 L268.62 159.76 L269.07 159.32 L269.53 158.89 L270 158.47 L270.47 158.06 L270.94 157.66 L271.41 157.27 L271.89 156.89 L272.37 156.52 L272.85 156.16 L273.34 155.81 L273.83 155.47 L274.32 155.14 L274.81 154.82 L275.3 154.51 L275.8 154.21 L276.3 153.92 L276.79 153.65 L277.29 153.38 L277.79 153.13 L278.3 152.88 L278.8 152.65 L279.3 152.43 L279.81 152.22 L280.31 152.02 L280.81 151.84 L281.32 151.66 L281.82 151.5 L282.33 151.35 L282.83 151.21 L283.33 151.08 L283.84 150.96 L284.34 150.85 L284.84 150.76 L285.34 150.68 L285.84 150.61 L286.33 150.55 L286.83 150.51 L287.32 150.47 L287.81 150.45 L288.3 150.44 L288.79 150.44 L289.27 150.45 L289.76 150.48 L290.24 150.52 L290.71 150.57 L291.19 150.63 L291.66 150.7 L292.12 150.79 L292.59 150.88 L293.05 150.99 L293.5 151.11 L293.96 151.24 L294.41 151.39 L294.85 151.54Z" fill="#fff" stroke="#000" stroke-width="2.18" stroke-linejoin="round" stroke-linecap="round" />
<ellipse cx="290.5" cy="193" rx="27" ry="40.5" fill="#fff" stroke="#000" stroke-width="2.18" transform="rotate(20 290.5 193)"/>
<ellipse cx="290.5" cy="193" rx="24" ry="36.5" fill="none" stroke="#000" stroke-width="1.72" transform="rotate(20 290.5 193)"/>
<ellipse cx="277.5" cy="185.5" rx="2.4" ry="3.2" fill="none" stroke="#000" stroke-width="1.38" transform="rotate(20 277.5 185.5)"/>
<ellipse cx="309.5" cy="181" rx="2.4" ry="3.2" fill="none" stroke="#000" stroke-width="1.38" transform="rotate(20 309.5 181)"/>
<ellipse cx="285.5" cy="220" rx="2.4" ry="3.2" fill="none" stroke="#000" stroke-width="1.38" transform="rotate(20 285.5 220)"/>
<circle cx="304.5" cy="166.5" r="1.1" fill="#000"/>
<circle cx="270.5" cy="202" r="1.1" fill="#000"/>
<circle cx="298.5" cy="212.5" r="1.1" fill="#000"/>
<path d="M291 172 C292.5 172 295 172.67 296 174 C297 175.33 297.17 177.33 297 180 C296.83 182.67 296.17 186.83 295 190 C293.83 193.17 292 196.5 290 199 C288 201.5 285.33 203.67 283 205 C280.67 206.33 276.67 207.83 276 207 C275.33 206.17 278 202.17 279 200 C280 197.83 281.67 196.17 282 194 C282.33 191.83 280.83 189.5 281 187 C281.17 184.5 282 181.17 283 179 C284 176.83 285.67 175.17 287 174 C288.33 172.83 289.5 172 291 172Z" fill="#fff" stroke="#000" stroke-width="1.61" stroke-linejoin="round" stroke-linecap="round" />
<path d="M296 177 L302 180.5 L304 187 L311 188.5 L311.5 201 L306.5 203.5 L297.5 202.5 L292 199.5" fill="none" stroke="#000" stroke-width="1.61" stroke-linejoin="round" stroke-linecap="round" />
<path d="M297 182 L298.5 186 L303 187.5 L304 197 L297.5 202.5" fill="none" stroke="#000" stroke-width="1.26" stroke-linejoin="round" stroke-linecap="round" />
<path d="M276 207 L290 202.5 L302 203.5 L305.5 206.5 L295 211 L283 211 L276 207" fill="#fff" stroke="#000" stroke-width="1.49" stroke-linejoin="round" stroke-linecap="round" />
<path d="M272 209.5 L278 208 L282.5 211 L284 215.5 L281 218.5 L273.5 218.5 L271 215.5Z" fill="#fff" stroke="#000" stroke-width="1.61" stroke-linejoin="round" stroke-linecap="round" />
<path d="M288.5 172 C288.92 171.42 290 168.92 291 168.5 C292 168.08 293.75 168.75 294.5 169.5 C295.25 170.25 295.33 172.42 295.5 173" fill="none" stroke="#000" stroke-width="1.38" stroke-linejoin="round" stroke-linecap="round" />
<path d="M295 203 L303 204 L300 208 Z" fill="#000"/>
<path d="M547.27 293.26 L559.27 290.76 L559.66 290.68 L560.06 290.62 L560.45 290.56 L560.84 290.51 L561.23 290.47 L561.62 290.44 L562.02 290.41 L562.41 290.4 L562.8 290.39 L563.19 290.39 L563.57 290.4 L563.96 290.42 L564.35 290.45 L564.73 290.48 L565.11 290.53 L565.5 290.58 L565.88 290.64 L566.25 290.71 L566.63 290.79 L567 290.88 L567.38 290.97 L567.75 291.07 L568.11 291.19 L568.48 291.31 L568.84 291.44 L569.2 291.57 L569.56 291.72 L569.91 291.87 L570.26 292.03 L570.61 292.2 L570.95 292.38 L571.3 292.56 L571.63 292.76 L571.97 292.96 L572.3 293.17 L572.62 293.38 L572.95 293.61 L573.27 293.84 L573.58 294.08 L573.89 294.32 L574.2 294.58 L574.5 294.84 L574.8 295.11 L575.09 295.38 L575.38 295.67 L575.67 295.96 L575.95 296.25 L576.22 296.56 L576.49 296.87 L576.75 297.18 L577.01 297.51 L577.27 297.84 L577.52 298.17 L577.76 298.51 L578 298.86 L578.23 299.22 L578.46 299.58 L578.68 299.94 L578.9 300.31 L579.11 300.69 L579.31 301.07 L579.51 301.46 L579.7 301.85 L579.89 302.25 L580.07 302.65 L580.24 303.06 L580.41 303.47 L580.57 303.89 L580.73 304.31 L580.88 304.74 L581.02 305.17 L581.16 305.6 L581.29 306.04 L581.41 306.48 L581.53 306.93 L581.64 307.37 L581.74 307.83 L581.84 308.28 L581.93 308.74 L582.01 309.2 L582.09 309.67 L582.16 310.13 L582.23 310.6 L582.28 311.08 L582.33 311.55 L582.38 312.03 L582.41 312.5 L582.44 312.98 L582.47 313.47 L582.48 313.95 L582.49 314.44 L582.49 314.92 L582.49 315.41 L582.48 315.9 L582.46 316.39 L582.44 316.88 L582.4 317.37 L582.37 317.86 L582.32 318.35 L582.27 318.84 L582.21 319.33 L582.14 319.82 L582.07 320.31 L581.99 320.8 L581.9 321.29 L581.81 321.77 L581.71 322.26 L581.61 322.75 L581.49 323.23 L581.38 323.71 L581.25 324.19 L581.12 324.67 L580.98 325.15 L580.84 325.63 L580.68 326.1 L580.53 326.57 L580.36 327.04 L580.19 327.51 L580.02 327.97 L579.83 328.43 L579.65 328.89 L579.45 329.34 L579.25 329.79 L579.05 330.24 L578.83 330.68 L578.62 331.12 L578.39 331.56 L578.17 331.99 L577.93 332.42 L577.69 332.85 L577.45 333.27 L577.2 333.68 L576.94 334.09 L576.68 334.5 L576.41 334.9 L576.14 335.29 L575.87 335.69 L575.59 336.07 L575.3 336.45 L575.01 336.83 L574.72 337.2 L574.42 337.56 L574.11 337.92 L573.8 338.27 L573.49 338.61 L573.18 338.95 L572.86 339.29 L572.53 339.61 L572.2 339.94 L571.87 340.25 L571.54 340.56 L571.2 340.86 L570.86 341.15 L570.51 341.44 L570.16 341.72 L569.81 341.99 L569.46 342.26 L569.1 342.52 L568.74 342.77 L568.37 343.01 L568.01 343.25 L567.64 343.48 L567.27 343.7 L566.9 343.91 L566.52 344.12 L566.15 344.32 L565.77 344.51 L565.39 344.69 L565.01 344.86 L564.62 345.03 L564.24 345.19 L563.85 345.34 L563.46 345.48 L563.08 345.61 L562.69 345.74 L562.3 345.86 L561.9 345.96 L561.51 346.07 L561.12 346.16 L560.73 346.24 L548.73 348.74 L548.34 348.82 L547.94 348.88 L547.55 348.94 L547.16 348.99 L546.77 349.03 L546.38 349.06 L545.98 349.09 L545.59 349.1 L545.2 349.11 L544.81 349.11 L544.43 349.1 L544.04 349.08 L543.65 349.05 L543.27 349.02 L542.89 348.97 L542.5 348.92 L542.12 348.86 L541.75 348.79 L541.37 348.71 L541 348.62 L540.62 348.53 L540.25 348.43 L539.89 348.31 L539.52 348.19 L539.16 348.06 L538.8 347.93 L538.44 347.78 L538.09 347.63 L537.74 347.47 L537.39 347.3 L537.05 347.12 L536.7 346.94 L536.37 346.74 L536.03 346.54 L535.7 346.33 L535.38 346.12 L535.05 345.89 L534.73 345.66 L534.42 345.42 L534.11 345.18 L533.8 344.92 L533.5 344.66 L533.2 344.39 L532.91 344.12 L532.62 343.83 L532.33 343.54 L532.05 343.25 L531.78 342.94 L531.51 342.63 L531.25 342.32 L530.99 341.99 L530.73 341.66 L530.48 341.33 L530.24 340.99 L530 340.64 L529.77 340.28 L529.54 339.92 L529.32 339.56 L529.1 339.19 L528.89 338.81 L528.69 338.43 L528.49 338.04 L528.3 337.65 L528.11 337.25 L527.93 336.85 L527.76 336.44 L527.59 336.03 L527.43 335.61 L527.27 335.19 L527.12 334.76 L526.98 334.33 L526.84 333.9 L526.71 333.46 L526.59 333.02 L526.47 332.57 L526.36 332.13 L526.26 331.67 L526.16 331.22 L526.07 330.76 L525.99 330.3 L525.91 329.83 L525.84 329.37 L525.77 328.9 L525.72 328.42 L525.67 327.95 L525.62 327.47 L525.59 327 L525.56 326.52 L525.53 326.03 L525.52 325.55 L525.51 325.06 L525.51 324.58 L525.51 324.09 L525.52 323.6 L525.54 323.11 L525.56 322.62 L525.6 322.13 L525.63 321.64 L525.68 321.15 L525.73 320.66 L525.79 320.17 L525.86 319.68 L525.93 319.19 L526.01 318.7 L526.1 318.21 L526.19 317.73 L526.29 317.24 L526.39 316.75 L526.51 316.27 L526.62 315.79 L526.75 315.31 L526.88 314.83 L527.02 314.35 L527.16 313.87 L527.32 313.4 L527.47 312.93 L527.64 312.46 L527.81 311.99 L527.98 311.53 L528.17 311.07 L528.35 310.61 L528.55 310.16 L528.75 309.71 L528.95 309.26 L529.17 308.82 L529.38 308.38 L529.61 307.94 L529.83 307.51 L530.07 307.08 L530.31 306.65 L530.55 306.23 L530.8 305.82 L531.06 305.41 L531.32 305 L531.59 304.6 L531.86 304.21 L532.13 303.81 L532.41 303.43 L532.7 303.05 L532.99 302.67 L533.28 302.3 L533.58 301.94 L533.89 301.58 L534.2 301.23 L534.51 300.89 L534.82 300.55 L535.14 300.21 L535.47 299.89 L535.8 299.56 L536.13 299.25 L536.46 298.94 L536.8 298.64 L537.14 298.35 L537.49 298.06 L537.84 297.78 L538.19 297.51 L538.54 297.24 L538.9 296.98 L539.26 296.73 L539.63 296.49 L539.99 296.25 L540.36 296.02 L540.73 295.8 L541.1 295.59 L541.48 295.38 L541.85 295.18 L542.23 294.99 L542.61 294.81 L542.99 294.64 L543.38 294.47 L543.76 294.31 L544.15 294.16 L544.54 294.02 L544.92 293.89 L545.31 293.76 L545.7 293.64 L546.1 293.54 L546.49 293.43 L546.88 293.34Z" fill="#fff" stroke="#000" stroke-width="1.49" stroke-linejoin="round" stroke-linecap="round" />
<ellipse cx="560" cy="318.5" rx="22" ry="28.5" fill="#fff" stroke="#000" stroke-width="1.49" transform="rotate(15 560 318.5)"/>
<path d="M533 289 C530.67 289.33 528.17 294.5 526 298 C523.83 301.5 521.5 305.67 520 310 C518.5 314.33 517.33 319.33 517 324 C516.67 328.67 517 333.83 518 338 C519 342.17 520.67 346.17 523 349 C525.33 351.83 528.33 353.67 532 355 C535.67 356.33 541 357.17 545 357 C549 356.83 555.5 355.33 556 354 C556.5 352.67 550.67 351.17 548 349 C545.33 346.83 542.17 344.17 540 341 C537.83 337.83 536 333.83 535 330 C534 326.17 533.83 322.17 534 318 C534.17 313.83 535 308.67 536 305 C537 301.33 540.5 298.67 540 296 C539.5 293.33 535.33 288.67 533 289Z" fill="#141414" stroke="#000" stroke-width="1.15" stroke-linejoin="round" stroke-linecap="round" />
<path d="M540 341 C540.83 338.92 546.67 343.17 550 343.5 C553.33 343.83 556.67 343.92 560 343 C563.33 342.08 567 340 570 338 C573 336 576.83 330.33 578 331 C579.17 331.67 578.33 338.83 577 342 C575.67 345.17 573.17 347.75 570 350 C566.83 352.25 562.17 354.5 558 355.5 C553.83 356.5 548 358.42 545 356 C542 353.58 539.17 343.08 540 341Z" fill="#141414" stroke="#000" stroke-width="1.15" stroke-linejoin="round" stroke-linecap="round" />
<path d="M547 346 C548.5 346.25 553.33 347.5 556 347.5 C558.67 347.5 561.83 346.25 563 346" fill="none" stroke="#fff" stroke-width="1.49" stroke-linejoin="round" stroke-linecap="round" />
<ellipse cx="560" cy="318.5" rx="22" ry="28.5" fill="#fff" stroke="#000" stroke-width="1.61" transform="rotate(15 560 318.5)"/>
<ellipse cx="561.5" cy="316.5" rx="16" ry="21.5" fill="none" stroke="#000" stroke-width="1.15" transform="rotate(15 561.5 316.5)"/>
<ellipse cx="555.5" cy="321" rx="10.5" ry="14.5" fill="#fff" stroke="#000" stroke-width="3.91" transform="rotate(12 555.5 321)"/>
<path d="M547 316 C547.33 314.67 547.67 309.83 549 308 C550.33 306.17 553 305.17 555 305 C557 304.83 560 306.67 561 307" fill="none" stroke="#000" stroke-width="1.84" stroke-linejoin="round" stroke-linecap="round" />
<path d="M550 316 C550.33 314.83 550.83 310.67 552 309 C553.17 307.33 555.17 306.17 557 306 C558.83 305.83 562 307.67 563 308" fill="none" stroke="#000" stroke-width="1.26" stroke-linejoin="round" stroke-linecap="round" />
<path d="M541 300 C542.17 299.5 546 298.33 548 297 C550 295.67 552.17 292.83 553 292" fill="none" stroke="#000" stroke-width="1.15" stroke-linejoin="round" stroke-linecap="round" />
<circle cx="575" cy="321" r="1.6" fill="#000"/><circle cx="553" cy="341" r="1.6" fill="#000"/><circle cx="567" cy="300" r="1.3" fill="#000"/>
<path d="M578.5 299 L586 300.5 L586.5 309 L579.5 308.5Z" fill="#fff" stroke="#000" stroke-width="1.49" stroke-linejoin="round" stroke-linecap="round" />
<path d="M577 322 L582.5 321.5 L582.5 331 L577 332Z" fill="#fff" stroke="#000" stroke-width="1.49" stroke-linejoin="round" stroke-linecap="round" />
<path d="M538 282.5 L555 284 L554 291.5 L537 290Z" fill="#fff" stroke="#000" stroke-width="1.61" stroke-linejoin="round" stroke-linecap="round" />
<path d="M525.5 291.5 L540 293 L539 302.5 L524.5 301Z" fill="#fff" stroke="#000" stroke-width="1.61" stroke-linejoin="round" stroke-linecap="round" />
<path d="M516.5 303.5 L530 305 L529 315 L515.5 313.5Z" fill="#fff" stroke="#000" stroke-width="1.61" stroke-linejoin="round" stroke-linecap="round" />
<rect x="518.5" y="308.75" width="1.6" height="1.6" fill="#000"/>
<rect x="522.1" y="309.15" width="1.6" height="1.6" fill="#000"/>
<rect x="525.7" y="309.55" width="1.6" height="1.6" fill="#000"/>
<path d="M512.5 326 L526 327.5 L525 337 L511.5 335.5Z" fill="#fff" stroke="#000" stroke-width="1.61" stroke-linejoin="round" stroke-linecap="round" />
<rect x="514.5" y="331" width="1.6" height="1.6" fill="#000"/>
<rect x="518.1" y="331.4" width="1.6" height="1.6" fill="#000"/>
<rect x="521.7" y="331.8" width="1.6" height="1.6" fill="#000"/>
<path d="M520 345 L536 346.5 L535 352 L519 350.5Z" fill="#fff" stroke="#000" stroke-width="1.61" stroke-linejoin="round" stroke-linecap="round" />
<path d="M538 291.5 L553 293.5 L553 299 L541 298Z" fill="#fff" stroke="#000" stroke-width="1.26" stroke-linejoin="round" stroke-linecap="round" />
<path d="M527 302.5 L539 304 L539 309 L528 308Z" fill="#fff" stroke="#000" stroke-width="1.26" stroke-linejoin="round" stroke-linecap="round" />
<path d="M673.75 267.5 L670 265 L667.5 258.75 L667.5 246.25 L669.4 240 L673.75 235 L680 233.1 L705 233.75 L713.75 234.4 L720 236.9 L723.75 241.25 L725 246.25 L724.4 251.25 L732 254.5 L741 263 L746.5 274 L749 288 L748 301 L745 312 L741 320 L745.5 331 L751.5 347 L749 355 L748 363 L750 376 L754 392 L755 405 L753 424 L746 442 L734 453 L720 458 L705 460 L699 469 L693.3 472.5 L688.7 474.8 L684 472.5 L674.7 469 L665.3 465.5 L660.7 464.3 L657.2 470.2 L651.3 473.7 L646.7 469 L632.7 464.3 L628 459.7 L622.2 452.7 L624.5 446.8 L622.2 443.3 L616.3 436.3 L608.3 432 L597.7 429.3 L592.3 426.7 L588.3 422.7 L587 417.3 L583 412 L580.3 402.7 L579.7 389.3 L581.7 377.3 L586 368 L591 360 L594.5 354 L597.7 348.7 L600.3 343.3 L605.7 340.7 L611 338 L617.7 332.7 L625.7 326 L631 324.7 L636.3 322 L640.3 316.7 L644.3 311.3 L649.7 307.3 L655 300.7 L660.3 296.7 L667 295.3 L669.4 281.25 L671.25 272.5Z" fill="#fff" stroke="#000" stroke-width="1.84" stroke-linejoin="round" stroke-linecap="round" />
<path d="M668.5 301 C667.42 301.25 663.92 301.58 662 302.5 C660.08 303.42 658.67 304.92 657 306.5 C655.33 308.08 653.83 310.33 652 312 C650.17 313.67 647.67 314.92 646 316.5 C644.33 318.08 643.5 319.75 642 321.5 C640.5 323.25 639.17 325.5 637 327 C634.83 328.5 631.83 329 629 330.5 C626.17 332 622.83 334.08 620 336 C617.17 337.92 614.33 340.42 612 342 C609.67 343.58 607.67 344.08 606 345.5 C604.33 346.92 603.25 348.58 602 350.5 C600.75 352.42 599.22 354.08 598.5 357 C597.78 359.92 598.73 364.62 597.7 368 C596.67 371.38 593.53 373.75 592.3 377.3 C591.07 380.85 590.4 384.85 590.3 389.3 C590.2 393.75 590.92 400 591.7 404 C592.48 408 594.23 410.85 595 413.3 C595.77 415.75 596.3 416.92 596.3 418.7 C596.3 420.48 594.72 422.53 595 424 C595.28 425.47 596.17 426.5 598 427.5 C599.83 428.5 604.67 429.58 606 430" fill="none" stroke="#000" stroke-width="1.49" stroke-linejoin="round" stroke-linecap="round" />
<path d="M671.1 301.6 C670.02 301.85 666.52 302.18 664.6 303.1 C662.68 304.02 661.27 305.52 659.6 307.1 C657.93 308.68 656.43 310.93 654.6 312.6 C652.77 314.27 650.27 315.52 648.6 317.1 C646.93 318.68 646.1 320.35 644.6 322.1 C643.1 323.85 641.77 326.1 639.6 327.6 C637.43 329.1 634.43 329.6 631.6 331.1 C628.77 332.6 625.43 334.68 622.6 336.6 C619.77 338.52 616.93 341.02 614.6 342.6 C612.27 344.18 610.27 344.68 608.6 346.1 C606.93 347.52 605.85 349.18 604.6 351.1 C603.35 353.02 601.82 354.68 601.1 357.6 C600.38 360.52 601.33 365.22 600.3 368.6 C599.27 371.98 596.13 374.35 594.9 377.9 C593.67 381.45 593 385.45 592.9 389.9 C592.8 394.35 593.52 400.6 594.3 404.6 C595.08 408.6 596.83 411.45 597.6 413.9 C598.37 416.35 598.68 418.4 598.9 419.3" fill="none" stroke="#000" stroke-width="1.26" stroke-linejoin="round" stroke-linecap="round" />
<path d="M649.7 370.7 C647.7 371.37 641.03 372.7 637.7 374.7 C634.37 376.7 631.82 379.6 629.7 382.7 C627.58 385.8 625.9 389.75 625 393.3 C624.1 396.85 624.08 400.67 624.3 404 C624.52 407.33 625.18 410.42 626.3 413.3 C627.42 416.18 629.1 419.07 631 421.3 C632.9 423.53 635.48 425.58 637.7 426.7 C639.92 427.82 643.2 427.78 644.3 428" fill="none" stroke="#000" stroke-width="1.61" stroke-linejoin="round" stroke-linecap="round" />
<path d="M651.9 370.7 C649.9 371.37 643.23 372.7 639.9 374.7 C636.57 376.7 634.02 379.6 631.9 382.7 C629.78 385.8 628.1 389.75 627.2 393.3 C626.3 396.85 626.28 400.67 626.5 404 C626.72 407.33 627.38 410.42 628.5 413.3 C629.62 416.18 631.3 419.07 633.2 421.3 C635.1 423.53 637.68 425.58 639.9 426.7 C642.12 427.82 645.4 427.78 646.5 428" fill="none" stroke="#000" stroke-width="1.26" stroke-linejoin="round" stroke-linecap="round" />
<path d="M612.3 346 L637.7 350" fill="none" stroke="#000" stroke-width="1.49" stroke-linejoin="round" stroke-linecap="round" />
<path d="M611 357.3 L639 364" fill="none" stroke="#000" stroke-width="1.49" stroke-linejoin="round" stroke-linecap="round" />
<path d="M606 345 L611 344 L632 334 L655 332.5 L657 336" fill="none" stroke="#000" stroke-width="1.49" stroke-linejoin="round" stroke-linecap="round" />
<path d="M615 360.5 L637.7 366.7 L646 368.5" fill="none" stroke="#000" stroke-width="1.38" stroke-linejoin="round" stroke-linecap="round" />
<path d="M650 318 L656.3 315.3 L668.3 316.7 L673.7 318" fill="none" stroke="#000" stroke-width="1.49" stroke-linejoin="round" stroke-linecap="round" />
<path d="M642 327 L650 318" fill="none" stroke="#000" stroke-width="1.38" stroke-linejoin="round" stroke-linecap="round" />
<ellipse cx="653" cy="345.3" rx="9.5" ry="7" fill="#fff" stroke="#000" stroke-width="1.61" transform="rotate(-25 653 345.3)"/>
<ellipse cx="653.5" cy="345.8" rx="6.8" ry="4.8" fill="#2a2a2a" stroke="#000" stroke-width="1.15" transform="rotate(-25 653.5 345.8)"/>
<path d="M660 337 C660.75 336.92 663.83 335.83 664.5 336.5 C665.17 337.17 664.58 339.42 664 341 C663.42 342.58 661.5 345.17 661 346" fill="none" stroke="#000" stroke-width="1.49" stroke-linejoin="round" stroke-linecap="round" />
<ellipse cx="643.7" cy="358.2" rx="6.4" ry="6.8" fill="#fff" stroke="#000" stroke-width="1.61"/>
<ellipse cx="643.7" cy="358.2" rx="2.16" ry="2.52" fill="#fff" stroke="#000" stroke-width="1.49"/>
<ellipse cx="675.75" cy="322.25" rx="6.6" ry="7" fill="#fff" stroke="#000" stroke-width="1.61"/>
<ellipse cx="675.75" cy="322.25" rx="2.28" ry="2.66" fill="#fff" stroke="#000" stroke-width="1.49"/>
<ellipse cx="633.6" cy="434.6" rx="6.3" ry="6.7" fill="#fff" stroke="#000" stroke-width="1.61"/>
<ellipse cx="633.6" cy="434.6" rx="2.1" ry="2.45" fill="#fff" stroke="#000" stroke-width="1.49"/>
<ellipse cx="651.3" cy="467.3" rx="6.2" ry="6.6" fill="#fff" stroke="#000" stroke-width="1.61"/>
<ellipse cx="651.3" cy="467.3" rx="2.04" ry="2.38" fill="#fff" stroke="#000" stroke-width="1.49"/>
<ellipse cx="701" cy="258" rx="6.3" ry="6.7" fill="#fff" stroke="#000" stroke-width="1.61"/>
<ellipse cx="701" cy="258" rx="2.1" ry="2.45" fill="#fff" stroke="#000" stroke-width="1.49"/>
<ellipse cx="738" cy="321.5" rx="6.1" ry="6.5" fill="#fff" stroke="#000" stroke-width="1.61"/>
<ellipse cx="738" cy="321.5" rx="1.98" ry="2.31" fill="#fff" stroke="#000" stroke-width="1.49"/>
<path d="M624.5 446.8 L632 447 L640 452 L645 460 L651.3 463.5" fill="none" stroke="#000" stroke-width="1.38" stroke-linejoin="round" stroke-linecap="round" />
<path d="M622 443 L615 436.5" fill="none" stroke="#000" stroke-width="1.38" stroke-linejoin="round" stroke-linecap="round" />
<path d="M640 440 L648 445 L654 455 L660 464" fill="none" stroke="#000" stroke-width="1.38" stroke-linejoin="round" stroke-linecap="round" />
<path d="M603.7 416 L607 426.7" fill="none" stroke="#000" stroke-width="1.38" stroke-linejoin="round" stroke-linecap="round" />
<path d="M637.5 441.5 L648 444.5 L655 441 L657 437" fill="none" stroke="#000" stroke-width="1.38" stroke-linejoin="round" stroke-linecap="round" />
<path d="M646 428 L652 431 L657 438 L662 442.5" fill="none" stroke="#000" stroke-width="1.26" stroke-linejoin="round" stroke-linecap="round" />
<path d="M705 463 C702.5 463.83 695 467.5 690 468 C685 468.5 679.67 467.17 675 466 C670.33 464.83 664.17 461.83 662 461" fill="none" stroke="#000" stroke-width="1.26" stroke-linejoin="round" stroke-linecap="round" />
<path d="M705 234.4 C704.17 235.12 701.25 236.98 700 238.75 C698.75 240.52 697.92 242.71 697.5 245 C697.08 247.29 697.5 251.25 697.5 252.5" fill="none" stroke="#000" stroke-width="1.49" stroke-linejoin="round" stroke-linecap="round" />
<path d="M707.5 235 C706.75 235.75 704.08 237.75 703 239.5 C701.92 241.25 701.33 243.5 701 245.5 C700.67 247.5 701 250.5 701 251.5" fill="none" stroke="#000" stroke-width="1.26" stroke-linejoin="round" stroke-linecap="round" />
<path d="M696.25 251.25 C694.17 251.14 686.46 250.18 683.75 250.6 C681.04 251.02 680.73 251.77 680 253.75 C679.27 255.73 679.82 260.21 679.4 262.5 C678.98 264.79 678.44 265.83 677.5 267.5 C676.56 269.17 674.79 270.21 673.75 272.5 C672.71 274.79 671.79 277.33 671.25 281.25 C670.71 285.17 670.62 293.54 670.5 296" fill="none" stroke="#000" stroke-width="1.49" stroke-linejoin="round" stroke-linecap="round" />
<ellipse cx="718.2" cy="292" rx="28.8" ry="37.2" fill="#fff" stroke="#000" stroke-width="1.72" transform="rotate(6 718.2 292)"/>
<ellipse cx="718.5" cy="292.3" rx="26.3" ry="34.7" fill="none" stroke="#000" stroke-width="1.38" transform="rotate(6 718.5 292.3)"/>
<path d="M710 258.5 C713.25 259.25 724.5 260.25 729.5 263 C734.5 265.75 737.5 270.5 740 275 C742.5 279.5 744.25 284.5 744.5 290 C744.75 295.5 743.5 303 741.5 308 C739.5 313 736.5 317 732.5 320 C728.5 323 722 325.25 717.5 326 C713 326.75 707.5 324.75 705.5 324.5" fill="none" stroke="#000" stroke-width="1.49" stroke-linejoin="round" stroke-linecap="round" />
<path d="M713 261.5 C715 262.25 721.5 263 725 266 C728.5 269 732 275.25 734 279.5 C736 283.75 737 286.75 737 291.5 C737 296.25 736 303.5 734 308 C732 312.5 728.75 316 725 318.5 C721.25 321 713.75 322.25 711.5 323" fill="none" stroke="#000" stroke-width="1.49" stroke-linejoin="round" stroke-linecap="round" />
<path d="M716 264.5 C717.25 265.5 721.5 267.25 723.5 270.5 C725.5 273.75 727.25 279.5 728 284 C728.75 288.5 728.75 293.25 728 297.5 C727.25 301.75 725.75 306.25 723.5 309.5 C721.25 312.75 717.5 315.5 714.5 317 C711.5 318.5 707 318.25 705.5 318.5" fill="none" stroke="#000" stroke-width="1.49" stroke-linejoin="round" stroke-linecap="round" />
<path d="M704 270.5 C705.5 270.75 710.5 270.25 713 272 C715.5 273.75 717.75 278 719 281 C720.25 284 720.75 286.5 720.5 290 C720.25 293.5 719 299 717.5 302 C716 305 713.5 306.75 711.5 308 C709.5 309.25 706.5 309.25 705.5 309.5" fill="none" stroke="#000" stroke-width="1.49" stroke-linejoin="round" stroke-linecap="round" />
<path d="M696.5 278 C697.75 278.25 702.25 278 704 279.5 C705.75 281 706.62 284.5 707 287 C707.38 289.5 707 292.5 706.25 294.5 C705.5 296.5 704.12 298 702.5 299 C700.88 300 697.5 300.25 696.5 300.5" fill="none" stroke="#000" stroke-width="1.49" stroke-linejoin="round" stroke-linecap="round" />
<path d="M693.5 285.5 C694 286 696.25 287.25 696.5 288.5 C696.75 289.75 695.25 292.25 695 293" fill="none" stroke="#000" stroke-width="1.49" stroke-linejoin="round" stroke-linecap="round" />
<path d="M695 302 C696.5 301.25 703.25 301.5 705.5 302 C707.75 302.5 709 304 708.5 305 C708 306 704.5 307.75 702.5 308 C700.5 308.25 697.75 307.5 696.5 306.5 C695.25 305.5 693.5 302.75 695 302Z" fill="#fff" stroke="#000" stroke-width="1.38" stroke-linejoin="round" stroke-linecap="round" />
<ellipse cx="701" cy="258" rx="6.3" ry="6.7" fill="#fff" stroke="#000" stroke-width="1.61"/>
<ellipse cx="701" cy="258" rx="2.1" ry="2.45" fill="#fff" stroke="#000" stroke-width="1.49"/>
<ellipse cx="738" cy="321.5" rx="6.1" ry="6.5" fill="#fff" stroke="#000" stroke-width="1.61"/>
<ellipse cx="738" cy="321.5" rx="1.98" ry="2.31" fill="#fff" stroke="#000" stroke-width="1.49"/>
<path d="M679.5 342.5 L694.5 338 L696 342.5 L681 347Z" fill="#fff" stroke="#000" stroke-width="1.38" stroke-linejoin="round" stroke-linecap="round" />
<path d="M703.5 332 L723 335 L732 342" fill="none" stroke="#000" stroke-width="1.38" stroke-linejoin="round" stroke-linecap="round" />
<path d="M702 339 L708 342.5" fill="none" stroke="#000" stroke-width="1.38" stroke-linejoin="round" stroke-linecap="round" />
<path d="M727.5 329 L745.5 332" fill="none" stroke="#000" stroke-width="1.38" stroke-linejoin="round" stroke-linecap="round" />
<path d="M735 336 L746 333 L751 347" fill="none" stroke="#000" stroke-width="1.38" stroke-linejoin="round" stroke-linecap="round" />
<ellipse cx="709.8" cy="404" rx="47.8" ry="59.8" fill="#fff" stroke="#000" stroke-width="1.84" transform="rotate(4 709.8 404)"/>
<ellipse cx="716" cy="404" rx="18" ry="21.5" fill="#0d0d0d" stroke="#000" stroke-width="1.38" transform="rotate(8 716 404)"/>
<ellipse cx="715.2" cy="404.5" rx="14.2" ry="17.6" fill="#4a4a4a" stroke="#111" stroke-width="1.15" transform="rotate(8 715.2 404.5)"/>
<ellipse cx="714.8" cy="404.8" rx="13" ry="16.4" fill="none" stroke="#111" stroke-width="1.03" transform="rotate(8 714.8 404.8)"/>
<ellipse cx="715.2" cy="404.8" rx="11.7" ry="14.95" fill="none" stroke="#a8a8a8" stroke-width="1.03" transform="rotate(8 715.2 404.8)"/>
<ellipse cx="715.6" cy="404.8" rx="10.4" ry="13.5" fill="none" stroke="#111" stroke-width="1.03" transform="rotate(8 715.6 404.8)"/>
<ellipse cx="716" cy="404.8" rx="9.1" ry="12.05" fill="none" stroke="#a8a8a8" stroke-width="1.03" transform="rotate(8 716 404.8)"/>
<ellipse cx="716.4" cy="404.8" rx="7.8" ry="10.6" fill="none" stroke="#111" stroke-width="1.03" transform="rotate(8 716.4 404.8)"/>
<ellipse cx="716.8" cy="404.8" rx="6.5" ry="9.15" fill="none" stroke="#a8a8a8" stroke-width="1.03" transform="rotate(8 716.8 404.8)"/>
<ellipse cx="711.5" cy="403" rx="4.2" ry="7.5" fill="#c8c8c8" stroke="#333" stroke-width="1.15" transform="rotate(8 711.5 403)"/>
<path d="M704 398 C703.92 399 703.33 401.83 703.5 404 C703.67 406.17 704.75 409.83 705 411" fill="none" stroke="#fff" stroke-width="1.38" stroke-linejoin="round" stroke-linecap="round" />
<text x="0" y="0" transform="translate(700.5 456) rotate(-38.5) skewX(-22)" font-family="Liberation Sans" font-weight="bold" font-size="12" letter-spacing="5.2" fill="#fff" stroke="#000" stroke-width="0.9">LIFAN</text>
<g transform="translate(473.5 89) rotate(8.13)"><path d="M18.02 -2.75 L1.2 -2.75 L0 -1.55 L0 1.55 A1.2 1.2 0 0 1 1.2 2.75 L18.02 2.75 Z" fill="#fff" stroke="#000" stroke-width="1.6" stroke-linejoin="round"/><rect x="0.8" y="-2.15" width="9.11" height="4.3" fill="#111"/><line x1="2.2" y1="-1.35" x2="3" y2="1.35" stroke="#ccc" stroke-width="0.7"/><line x1="4.5" y1="-1.35" x2="5.3" y2="1.35" stroke="#ccc" stroke-width="0.7"/><line x1="6.8" y1="-1.35" x2="7.6" y2="1.35" stroke="#ccc" stroke-width="0.7"/><line x1="9.1" y1="-1.35" x2="9.9" y2="1.35" stroke="#ccc" stroke-width="0.7"/><ellipse cx="18.89" cy="0" rx="2.9" ry="5.8" fill="#fff" stroke="#000" stroke-width="1.6"/><ellipse cx="21.5" cy="0" rx="3.19" ry="5.22" fill="#fff" stroke="#000" stroke-width="1.6"/><path d="M19.47 -3.48 L19.47 3.48" stroke="#000" stroke-width="1.1199999999999999" fill="none"/></g>
<g transform="translate(909 490) rotate(16.09)"><path d="M23.65 -3 L1.2 -3 L0 -1.8 L0 1.8 A1.2 1.2 0 0 1 1.2 3 L23.65 3 Z" fill="#fff" stroke="#000" stroke-width="1.6" stroke-linejoin="round"/><rect x="0.8" y="-2.4" width="12.21" height="4.8" fill="#111"/><line x1="2.2" y1="-1.6" x2="3" y2="1.6" stroke="#ccc" stroke-width="0.7"/><line x1="4.5" y1="-1.6" x2="5.3" y2="1.6" stroke="#ccc" stroke-width="0.7"/><line x1="6.8" y1="-1.6" x2="7.6" y2="1.6" stroke="#ccc" stroke-width="0.7"/><line x1="9.1" y1="-1.6" x2="9.9" y2="1.6" stroke="#ccc" stroke-width="0.7"/><line x1="11.4" y1="-1.6" x2="12.2" y2="1.6" stroke="#ccc" stroke-width="0.7"/><ellipse cx="24.58" cy="0" rx="3.1" ry="6.2" fill="#fff" stroke="#000" stroke-width="1.6"/><ellipse cx="27.37" cy="0" rx="3.41" ry="5.58" fill="#fff" stroke="#000" stroke-width="1.6"/><path d="M25.2 -3.72 L25.2 3.72" stroke="#000" stroke-width="1.1199999999999999" fill="none"/></g>
<g transform="translate(967 420) rotate(23.55)"><path d="M17.86 -3 L1.2 -3 L0 -1.8 L0 1.8 A1.2 1.2 0 0 1 1.2 3 L17.86 3 Z" fill="#fff" stroke="#000" stroke-width="1.6" stroke-linejoin="round"/><rect x="0.8" y="-2.4" width="9.02" height="4.8" fill="#111"/><line x1="2.2" y1="-1.6" x2="3" y2="1.6" stroke="#ccc" stroke-width="0.7"/><line x1="4.5" y1="-1.6" x2="5.3" y2="1.6" stroke="#ccc" stroke-width="0.7"/><line x1="6.8" y1="-1.6" x2="7.6" y2="1.6" stroke="#ccc" stroke-width="0.7"/><ellipse cx="18.79" cy="0" rx="3.1" ry="6.2" fill="#fff" stroke="#000" stroke-width="1.6"/><ellipse cx="21.58" cy="0" rx="3.41" ry="5.58" fill="#fff" stroke="#000" stroke-width="1.6"/><path d="M19.41 -3.72 L19.41 3.72" stroke="#000" stroke-width="1.1199999999999999" fill="none"/></g>
<g transform="translate(862 421) rotate(19.65)"><path d="M18.89 -3 L1.2 -3 L0 -1.8 L0 1.8 A1.2 1.2 0 0 1 1.2 3 L18.89 3 Z" fill="#fff" stroke="#000" stroke-width="1.6" stroke-linejoin="round"/><rect x="0.8" y="-2.4" width="9.59" height="4.8" fill="#111"/><line x1="2.2" y1="-1.6" x2="3" y2="1.6" stroke="#ccc" stroke-width="0.7"/><line x1="4.5" y1="-1.6" x2="5.3" y2="1.6" stroke="#ccc" stroke-width="0.7"/><line x1="6.8" y1="-1.6" x2="7.6" y2="1.6" stroke="#ccc" stroke-width="0.7"/><line x1="9.1" y1="-1.6" x2="9.9" y2="1.6" stroke="#ccc" stroke-width="0.7"/><ellipse cx="19.82" cy="0" rx="3.1" ry="6.2" fill="#fff" stroke="#000" stroke-width="1.6"/><ellipse cx="22.61" cy="0" rx="3.41" ry="5.58" fill="#fff" stroke="#000" stroke-width="1.6"/><path d="M20.44 -3.72 L20.44 3.72" stroke="#000" stroke-width="1.1199999999999999" fill="none"/></g>
<g transform="translate(818 448) rotate(24.7)"><path d="M24.11 -3 L1.2 -3 L0 -1.8 L0 1.8 A1.2 1.2 0 0 1 1.2 3 L24.11 3 Z" fill="#fff" stroke="#000" stroke-width="1.6" stroke-linejoin="round"/><rect x="0.8" y="-2.4" width="12.46" height="4.8" fill="#111"/><line x1="2.2" y1="-1.6" x2="3" y2="1.6" stroke="#ccc" stroke-width="0.7"/><line x1="4.5" y1="-1.6" x2="5.3" y2="1.6" stroke="#ccc" stroke-width="0.7"/><line x1="6.8" y1="-1.6" x2="7.6" y2="1.6" stroke="#ccc" stroke-width="0.7"/><line x1="9.1" y1="-1.6" x2="9.9" y2="1.6" stroke="#ccc" stroke-width="0.7"/><line x1="11.4" y1="-1.6" x2="12.2" y2="1.6" stroke="#ccc" stroke-width="0.7"/><ellipse cx="25.04" cy="0" rx="3.1" ry="6.2" fill="#fff" stroke="#000" stroke-width="1.6"/><ellipse cx="27.83" cy="0" rx="3.41" ry="5.58" fill="#fff" stroke="#000" stroke-width="1.6"/><path d="M25.66 -3.72 L25.66 3.72" stroke="#000" stroke-width="1.1199999999999999" fill="none"/></g>
<g transform="translate(767 485) rotate(20.1)"><path d="M18.42 -3 L1.2 -3 L0 -1.8 L0 1.8 A1.2 1.2 0 0 1 1.2 3 L18.42 3 Z" fill="#fff" stroke="#000" stroke-width="1.6" stroke-linejoin="round"/><rect x="0.8" y="-2.4" width="9.33" height="4.8" fill="#111"/><line x1="2.2" y1="-1.6" x2="3" y2="1.6" stroke="#ccc" stroke-width="0.7"/><line x1="4.5" y1="-1.6" x2="5.3" y2="1.6" stroke="#ccc" stroke-width="0.7"/><line x1="6.8" y1="-1.6" x2="7.6" y2="1.6" stroke="#ccc" stroke-width="0.7"/><line x1="9.1" y1="-1.6" x2="9.9" y2="1.6" stroke="#ccc" stroke-width="0.7"/><ellipse cx="19.35" cy="0" rx="3.1" ry="6.2" fill="#fff" stroke="#000" stroke-width="1.6"/><ellipse cx="22.14" cy="0" rx="3.41" ry="5.58" fill="#fff" stroke="#000" stroke-width="1.6"/><path d="M19.97 -3.72 L19.97 3.72" stroke="#000" stroke-width="1.1199999999999999" fill="none"/></g>
<g transform="translate(944.5 522) rotate(21.04)"><path d="M17.48 -3 L1.2 -3 L0 -1.8 L0 1.8 A1.2 1.2 0 0 1 1.2 3 L17.48 3 Z" fill="#fff" stroke="#000" stroke-width="1.6" stroke-linejoin="round"/><rect x="0.8" y="-2.4" width="8.82" height="4.8" fill="#111"/><line x1="2.2" y1="-1.6" x2="3" y2="1.6" stroke="#ccc" stroke-width="0.7"/><line x1="4.5" y1="-1.6" x2="5.3" y2="1.6" stroke="#ccc" stroke-width="0.7"/><line x1="6.8" y1="-1.6" x2="7.6" y2="1.6" stroke="#ccc" stroke-width="0.7"/><ellipse cx="18.41" cy="0" rx="3.1" ry="6.2" fill="#fff" stroke="#000" stroke-width="1.6"/><ellipse cx="21.2" cy="0" rx="3.41" ry="5.58" fill="#fff" stroke="#000" stroke-width="1.6"/><path d="M19.03 -3.72 L19.03 3.72" stroke="#000" stroke-width="1.1199999999999999" fill="none"/></g>
<g transform="translate(893.5 530) rotate(23.86)"><path d="M25.02 -3 L1.2 -3 L0 -1.8 L0 1.8 A1.2 1.2 0 0 1 1.2 3 L25.02 3 Z" fill="#fff" stroke="#000" stroke-width="1.6" stroke-linejoin="round"/><rect x="0.8" y="-2.4" width="12.96" height="4.8" fill="#111"/><line x1="2.2" y1="-1.6" x2="3" y2="1.6" stroke="#ccc" stroke-width="0.7"/><line x1="4.5" y1="-1.6" x2="5.3" y2="1.6" stroke="#ccc" stroke-width="0.7"/><line x1="6.8" y1="-1.6" x2="7.6" y2="1.6" stroke="#ccc" stroke-width="0.7"/><line x1="9.1" y1="-1.6" x2="9.9" y2="1.6" stroke="#ccc" stroke-width="0.7"/><line x1="11.4" y1="-1.6" x2="12.2" y2="1.6" stroke="#ccc" stroke-width="0.7"/><ellipse cx="25.95" cy="0" rx="3.1" ry="6.2" fill="#fff" stroke="#000" stroke-width="1.6"/><ellipse cx="28.74" cy="0" rx="3.41" ry="5.58" fill="#fff" stroke="#000" stroke-width="1.6"/><path d="M26.57 -3.72 L26.57 3.72" stroke="#000" stroke-width="1.1199999999999999" fill="none"/></g>
<g transform="translate(846 538.5) rotate(23.96)"><path d="M26.14 -3 L1.2 -3 L0 -1.8 L0 1.8 A1.2 1.2 0 0 1 1.2 3 L26.14 3 Z" fill="#fff" stroke="#000" stroke-width="1.6" stroke-linejoin="round"/><rect x="0.8" y="-2.4" width="13.58" height="4.8" fill="#111"/><line x1="2.2" y1="-1.6" x2="3" y2="1.6" stroke="#ccc" stroke-width="0.7"/><line x1="4.5" y1="-1.6" x2="5.3" y2="1.6" stroke="#ccc" stroke-width="0.7"/><line x1="6.8" y1="-1.6" x2="7.6" y2="1.6" stroke="#ccc" stroke-width="0.7"/><line x1="9.1" y1="-1.6" x2="9.9" y2="1.6" stroke="#ccc" stroke-width="0.7"/><line x1="11.4" y1="-1.6" x2="12.2" y2="1.6" stroke="#ccc" stroke-width="0.7"/><ellipse cx="27.07" cy="0" rx="3.1" ry="6.2" fill="#fff" stroke="#000" stroke-width="1.6"/><ellipse cx="29.86" cy="0" rx="3.41" ry="5.58" fill="#fff" stroke="#000" stroke-width="1.6"/><path d="M27.69 -3.72 L27.69 3.72" stroke="#000" stroke-width="1.1199999999999999" fill="none"/></g>
<g transform="translate(823 542.5) rotate(23.75)"><path d="M23.9 -3 L1.2 -3 L0 -1.8 L0 1.8 A1.2 1.2 0 0 1 1.2 3 L23.9 3 Z" fill="#fff" stroke="#000" stroke-width="1.6" stroke-linejoin="round"/><rect x="0.8" y="-2.4" width="12.35" height="4.8" fill="#111"/><line x1="2.2" y1="-1.6" x2="3" y2="1.6" stroke="#ccc" stroke-width="0.7"/><line x1="4.5" y1="-1.6" x2="5.3" y2="1.6" stroke="#ccc" stroke-width="0.7"/><line x1="6.8" y1="-1.6" x2="7.6" y2="1.6" stroke="#ccc" stroke-width="0.7"/><line x1="9.1" y1="-1.6" x2="9.9" y2="1.6" stroke="#ccc" stroke-width="0.7"/><line x1="11.4" y1="-1.6" x2="12.2" y2="1.6" stroke="#ccc" stroke-width="0.7"/><ellipse cx="24.83" cy="0" rx="3.1" ry="6.2" fill="#fff" stroke="#000" stroke-width="1.6"/><ellipse cx="27.62" cy="0" rx="3.41" ry="5.58" fill="#fff" stroke="#000" stroke-width="1.6"/><path d="M25.45 -3.72 L25.45 3.72" stroke="#000" stroke-width="1.1199999999999999" fill="none"/></g>
<g transform="translate(862.5 259.8) rotate(7.76)"><path d="M31.41 -3 L1.2 -3 L0 -1.8 L0 1.8 A1.2 1.2 0 0 1 1.2 3 L31.41 3 Z" fill="#fff" stroke="#000" stroke-width="1.6" stroke-linejoin="round"/><rect x="0.8" y="-2.4" width="9.25" height="4.8" fill="#111"/><line x1="2.2" y1="-1.6" x2="3" y2="1.6" stroke="#ccc" stroke-width="0.7"/><line x1="4.5" y1="-1.6" x2="5.3" y2="1.6" stroke="#ccc" stroke-width="0.7"/><line x1="6.8" y1="-1.6" x2="7.6" y2="1.6" stroke="#ccc" stroke-width="0.7"/><line x1="9.1" y1="-1.6" x2="9.9" y2="1.6" stroke="#ccc" stroke-width="0.7"/><ellipse cx="32.34" cy="0" rx="3.1" ry="6.2" fill="#fff" stroke="#000" stroke-width="1.6"/><ellipse cx="35.13" cy="0" rx="3.41" ry="5.58" fill="#fff" stroke="#000" stroke-width="1.6"/><path d="M32.96 -3.72 L32.96 3.72" stroke="#000" stroke-width="1.1199999999999999" fill="none"/></g>
<g transform="translate(847 184) rotate(7.13)"><path d="M17.13 -2.5 L1.2 -2.5 L0 -1.3 L0 1.3 A1.2 1.2 0 0 1 1.2 2.5 L17.13 2.5 Z" fill="#fff" stroke="#000" stroke-width="1.6" stroke-linejoin="round"/><rect x="0.8" y="-1.9" width="8.62" height="3.8" fill="#111"/><line x1="2.2" y1="-1.1" x2="3" y2="1.1" stroke="#ccc" stroke-width="0.7"/><line x1="4.5" y1="-1.1" x2="5.3" y2="1.1" stroke="#ccc" stroke-width="0.7"/><line x1="6.8" y1="-1.1" x2="7.6" y2="1.1" stroke="#ccc" stroke-width="0.7"/><ellipse cx="17.96" cy="0" rx="2.75" ry="5.5" fill="#fff" stroke="#000" stroke-width="1.6"/><ellipse cx="20.43" cy="0" rx="3.03" ry="4.95" fill="#fff" stroke="#000" stroke-width="1.6"/><path d="M18.51 -3.3 L18.51 3.3" stroke="#000" stroke-width="1.1199999999999999" fill="none"/></g>
<g transform="translate(410.5 258.5) rotate(22.43)"><path d="M29.57 -3.3 L1.2 -3.3 L0 -2.1 L0 2.1 A1.2 1.2 0 0 1 1.2 3.3 L29.57 3.3 Z" fill="#fff" stroke="#000" stroke-width="1.6" stroke-linejoin="round"/><line x1="2" y1="-2.9" x2="3.6" y2="2.9" stroke="#000" stroke-width="1.3"/><line x1="4.6" y1="-2.9" x2="6.2" y2="2.9" stroke="#000" stroke-width="1.3"/><line x1="7.2" y1="-2.9" x2="8.8" y2="2.9" stroke="#000" stroke-width="1.3"/><line x1="9.8" y1="-2.9" x2="11.4" y2="2.9" stroke="#000" stroke-width="1.3"/><line x1="12.4" y1="-2.9" x2="14" y2="2.9" stroke="#000" stroke-width="1.3"/><line x1="15" y1="-2.9" x2="16.6" y2="2.9" stroke="#000" stroke-width="1.3"/><line x1="17.6" y1="-2.9" x2="19.2" y2="2.9" stroke="#000" stroke-width="1.3"/><ellipse cx="30.8" cy="0" rx="4.1" ry="8.2" fill="#fff" stroke="#000" stroke-width="1.6"/><ellipse cx="34.49" cy="0" rx="4.51" ry="7.38" fill="#fff" stroke="#000" stroke-width="1.6"/><path d="M31.62 -4.92 L31.62 4.92" stroke="#000" stroke-width="1.1199999999999999" fill="none"/></g>
<g transform="translate(407 284.6) rotate(21.8)"><rect x="0" y="-2" width="16.69" height="4" fill="#fff" stroke="#000" stroke-width="1.2"/><rect x="6.68" y="-1.5" width="9.18" height="3" fill="#222"/><ellipse cx="0" cy="0" rx="3.2" ry="4" fill="#fff" stroke="#000" stroke-width="1.2"/><ellipse cx="-1" cy="0" rx="1.4" ry="1.8" fill="none" stroke="#000" stroke-width="0.9"/></g>
<g transform="translate(459.6 289.2) rotate(20.16)"><rect x="0" y="-2" width="16.83" height="4" fill="#fff" stroke="#000" stroke-width="1.2"/><rect x="6.73" y="-1.5" width="9.26" height="3" fill="#222"/><ellipse cx="0" cy="0" rx="3.2" ry="4" fill="#fff" stroke="#000" stroke-width="1.2"/><ellipse cx="-1" cy="0" rx="1.4" ry="1.8" fill="none" stroke="#000" stroke-width="0.9"/></g>
<g transform="translate(434 324) rotate(23.63)"><rect x="0" y="-2" width="17.46" height="4" fill="#fff" stroke="#000" stroke-width="1.2"/><rect x="6.99" y="-1.5" width="9.61" height="3" fill="#222"/><ellipse cx="0" cy="0" rx="3.2" ry="4" fill="#fff" stroke="#000" stroke-width="1.2"/><ellipse cx="-1" cy="0" rx="1.4" ry="1.8" fill="none" stroke="#000" stroke-width="0.9"/></g>
<g transform="translate(459.6 272) rotate(21.48)"><rect x="0" y="-1.6" width="11.61" height="3.2" fill="#fff" stroke="#000" stroke-width="1.2"/><rect x="4.64" y="-1.1" width="6.38" height="2.2" fill="#222"/><ellipse cx="0" cy="0" rx="2.56" ry="3.2" fill="#fff" stroke="#000" stroke-width="1.2"/><ellipse cx="-0.8" cy="0" rx="1.12" ry="1.44" fill="none" stroke="#000" stroke-width="0.9"/></g>
<g transform="translate(471 246) rotate(29.05)"><rect x="0" y="-1.5" width="10.3" height="3" fill="#fff" stroke="#000" stroke-width="1.2"/><rect x="4.12" y="-1" width="5.66" height="2" fill="#222"/><ellipse cx="0" cy="0" rx="2.4" ry="3" fill="#fff" stroke="#000" stroke-width="1.2"/><ellipse cx="-0.75" cy="0" rx="1.05" ry="1.35" fill="none" stroke="#000" stroke-width="0.9"/></g>
<g transform="translate(189 160) rotate(29.05)"><rect x="0" y="-1.6" width="10.3" height="3.2" fill="#fff" stroke="#000" stroke-width="1.2"/><rect x="4.12" y="-1.1" width="5.66" height="2.2" fill="#222"/><ellipse cx="0" cy="0" rx="2.56" ry="3.2" fill="#fff" stroke="#000" stroke-width="1.2"/><ellipse cx="-0.8" cy="0" rx="1.12" ry="1.44" fill="none" stroke="#000" stroke-width="0.9"/></g>
<g transform="translate(221 122.5) rotate(26.57)"><rect x="0" y="-1.6" width="10.06" height="3.2" fill="#fff" stroke="#000" stroke-width="1.2"/><rect x="4.02" y="-1.1" width="5.53" height="2.2" fill="#222"/><ellipse cx="0" cy="0" rx="2.56" ry="3.2" fill="#fff" stroke="#000" stroke-width="1.2"/><ellipse cx="-0.8" cy="0" rx="1.12" ry="1.44" fill="none" stroke="#000" stroke-width="0.9"/></g>
<g transform="translate(221 157.5) rotate(26.57)"><rect x="0" y="-1.6" width="10.06" height="3.2" fill="#fff" stroke="#000" stroke-width="1.2"/><rect x="4.02" y="-1.1" width="5.53" height="2.2" fill="#222"/><ellipse cx="0" cy="0" rx="2.56" ry="3.2" fill="#fff" stroke="#000" stroke-width="1.2"/><ellipse cx="-0.8" cy="0" rx="1.12" ry="1.44" fill="none" stroke="#000" stroke-width="0.9"/></g>
<line x1="222.5" y1="110" x2="222.5" y2="120" stroke="#000" stroke-width="1.61" stroke-linecap="round"/>
<line x1="247.7" y1="114.5" x2="247.7" y2="124.5" stroke="#000" stroke-width="1.61" stroke-linecap="round"/>
<line x1="294.5" y1="135" x2="294.5" y2="151" stroke="#000" stroke-width="1.61" stroke-linecap="round"/>
<line x1="189" y1="146" x2="189" y2="158" stroke="#000" stroke-width="1.61" stroke-linecap="round"/>
<line x1="251" y1="155" x2="247.5" y2="161" stroke="#000" stroke-width="1.61" stroke-linecap="round"/>
<line x1="205.5" y1="176" x2="205.5" y2="180" stroke="#000" stroke-width="1.61" stroke-linecap="round"/>
<line x1="227.5" y1="160" x2="227.5" y2="192.5" stroke="#000" stroke-width="1.61" stroke-linecap="round"/>
<line x1="360" y1="160" x2="360" y2="180" stroke="#000" stroke-width="1.61" stroke-linecap="round"/>
<line x1="269" y1="258.2" x2="269" y2="288.5" stroke="#000" stroke-width="1.61" stroke-linecap="round"/>
<line x1="432.5" y1="74" x2="432.5" y2="99" stroke="#000" stroke-width="1.61" stroke-linecap="round"/>
<line x1="482" y1="65" x2="482" y2="97.5" stroke="#000" stroke-width="1.61" stroke-linecap="round"/>
<line x1="504" y1="110" x2="504" y2="127.5" stroke="#000" stroke-width="1.61" stroke-linecap="round"/>
<line x1="607" y1="92.5" x2="607" y2="105" stroke="#000" stroke-width="1.61" stroke-linecap="round"/>
<line x1="636" y1="120" x2="636" y2="132.5" stroke="#000" stroke-width="1.61" stroke-linecap="round"/>
<line x1="557.6" y1="166" x2="557.6" y2="183" stroke="#000" stroke-width="1.61" stroke-linecap="round"/>
<line x1="762" y1="165" x2="762" y2="182.5" stroke="#000" stroke-width="1.61" stroke-linecap="round"/>
<line x1="814.5" y1="169" x2="814.5" y2="186" stroke="#000" stroke-width="1.61" stroke-linecap="round"/>
<line x1="866" y1="167.5" x2="866" y2="182.5" stroke="#000" stroke-width="1.61" stroke-linecap="round"/>
<line x1="897.5" y1="244" x2="897.5" y2="260" stroke="#000" stroke-width="1.61" stroke-linecap="round"/>
<line x1="645" y1="182.5" x2="662.5" y2="182.5" stroke="#000" stroke-width="1.61" stroke-linecap="round"/>
<line x1="634" y1="220" x2="634" y2="237.5" stroke="#000" stroke-width="1.61" stroke-linecap="round"/>
<line x1="644" y1="290" x2="644" y2="310" stroke="#000" stroke-width="1.61" stroke-linecap="round"/>
<line x1="606.5" y1="300.5" x2="606.5" y2="318.5" stroke="#000" stroke-width="1.61" stroke-linecap="round"/>
<line x1="459" y1="226" x2="459" y2="269" stroke="#000" stroke-width="1.61" stroke-linecap="round"/>
<line x1="493" y1="233.5" x2="480" y2="250" stroke="#000" stroke-width="1.61" stroke-linecap="round"/>
<line x1="511" y1="247.5" x2="501" y2="257.5" stroke="#000" stroke-width="1.61" stroke-linecap="round"/>
<line x1="441" y1="245" x2="441" y2="263" stroke="#000" stroke-width="1.61" stroke-linecap="round"/>
<line x1="421" y1="291" x2="421" y2="296" stroke="#000" stroke-width="1.61" stroke-linecap="round"/>
<line x1="472.5" y1="295" x2="472.5" y2="309" stroke="#000" stroke-width="1.61" stroke-linecap="round"/>
<line x1="449" y1="332.5" x2="449" y2="350" stroke="#000" stroke-width="1.61" stroke-linecap="round"/>
<line x1="530" y1="355" x2="530" y2="377.5" stroke="#000" stroke-width="1.61" stroke-linecap="round"/>
<line x1="556.3" y1="376" x2="556.3" y2="391.9" stroke="#000" stroke-width="1.61" stroke-linecap="round"/>
<line x1="870" y1="326" x2="891" y2="326" stroke="#000" stroke-width="1.61" stroke-linecap="round"/>
<line x1="987.4" y1="402" x2="987.4" y2="424" stroke="#000" stroke-width="1.61" stroke-linecap="round"/>
<line x1="889" y1="426" x2="904.5" y2="421" stroke="#000" stroke-width="1.61" stroke-linecap="round"/>
<line x1="869" y1="461" x2="869" y2="476" stroke="#000" stroke-width="1.61" stroke-linecap="round"/>
<line x1="801" y1="455.5" x2="816" y2="450" stroke="#000" stroke-width="1.61" stroke-linecap="round"/>
<line x1="939" y1="497.7" x2="955.4" y2="497.7" stroke="#000" stroke-width="1.61" stroke-linecap="round"/>
<line x1="690.1" y1="474" x2="690.1" y2="493.3" stroke="#000" stroke-width="1.61" stroke-linecap="round"/>
<line x1="786" y1="497.5" x2="786" y2="512.5" stroke="#000" stroke-width="1.61" stroke-linecap="round"/>
<line x1="832.5" y1="502.5" x2="832.5" y2="512.5" stroke="#000" stroke-width="1.61" stroke-linecap="round"/>
<line x1="918" y1="547" x2="918" y2="562" stroke="#000" stroke-width="1.61" stroke-linecap="round"/>
<line x1="964.5" y1="536" x2="964.5" y2="551" stroke="#000" stroke-width="1.61" stroke-linecap="round"/>
<line x1="830.4" y1="549" x2="830.4" y2="566" stroke="#000" stroke-width="1.61" stroke-linecap="round"/>
<line x1="873" y1="556" x2="873" y2="568" stroke="#000" stroke-width="1.61" stroke-linecap="round"/>
<ellipse cx="672" cy="355.6" rx="105.7" ry="141" fill="none" stroke="#e8000b" stroke-width="3.56"/>
<text x="206.91" y="105.97" font-family="Liberation Sans" font-size="24.5">2</text>
<path d="M228.5 105.97 L230.8 105.97 L230.8 88.62 L229.1 88.62 L224.1 94.07 L224.9 96.07 L228.5 92.57 Z" fill="#000"/>
<text x="237.76" y="106.77" font-family="Liberation Sans" font-size="24.5">2</text>
<text x="252.51" y="106.77" font-family="Liberation Sans" font-size="24.5">2</text>
<path d="M285.07 128.62 L287.38 128.62 L287.38 111.28 L285.68 111.28 L280.68 116.72 L281.48 118.72 L285.07 115.22 Z" fill="#000"/>
<path d="M297.97 128.62 L300.27 128.62 L300.27 111.28 L298.57 111.28 L293.57 116.72 L294.38 118.72 L297.97 115.22 Z" fill="#000"/>
<text x="176.89" y="139.28" font-family="Liberation Sans" font-size="24.5">2</text>
<path d="M198.48 139.28 L200.78 139.28 L200.78 121.93 L199.08 121.93 L194.08 127.38 L194.88 129.38 L198.48 125.88 Z" fill="#000"/>
<text x="249.71" y="150.53" font-family="Liberation Sans" font-size="24.5">2</text>
<text x="264.46" y="150.53" font-family="Liberation Sans" font-size="24.5">2</text>
<path d="M350.14 153.43 L352.44 153.43 L352.44 136.08 L350.74 136.08 L345.74 141.53 L346.54 143.53 L350.14 140.03 Z" fill="#000"/>
<text x="357.71" y="153.43" font-family="Liberation Sans" font-size="24.5">3</text>
<text x="188.76" y="197.43" font-family="Liberation Sans" font-size="24.5">2</text>
<text x="203.51" y="197.43" font-family="Liberation Sans" font-size="24.5">2</text>
<text x="213.14" y="214.58" font-family="Liberation Sans" font-size="24.5">2</text>
<path d="M234.73 214.58 L237.03 214.58 L237.03 197.23 L235.33 197.23 L230.33 202.68 L231.13 204.68 L234.73 201.18 Z" fill="#000"/>
<path d="M261.17 312.03 L263.47 312.03 L263.47 294.68 L261.77 294.68 L256.77 300.13 L257.57 302.13 L261.17 298.63 Z" fill="#000"/>
<text x="268.44" y="312.03" font-family="Liberation Sans" font-size="24.5">2</text>
<path d="M603.18 86.67 L605.48 86.67 L605.48 69.32 L603.78 69.32 L598.78 74.77 L599.58 76.77 L603.18 73.27 Z" fill="#000"/>
<text x="610.43" y="86.67" font-family="Liberation Sans" font-size="24.5">7</text>
<text x="620.78" y="155.68" font-family="Liberation Sans" font-size="24.5">2</text>
<text x="635.79" y="155.68" font-family="Liberation Sans" font-size="24.5">5</text>
<path d="M553.85 159.68 L556.15 159.68 L556.15 142.33 L554.45 142.33 L549.45 147.78 L550.25 149.78 L553.85 146.28 Z" fill="#000"/>
<text x="561.1" y="159.68" font-family="Liberation Sans" font-size="24.5">6</text>
<text x="755.35" y="157.18" font-family="Liberation Sans" font-size="24.5">9</text>
<text x="806.69" y="160.58" font-family="Liberation Sans" font-size="24.5">8</text>
<text x="852.49" y="162.28" font-family="Liberation Sans" font-size="24.5">2</text>
<text x="867.23" y="162.28" font-family="Liberation Sans" font-size="24.5">6</text>
<text x="881.51" y="238.43" font-family="Liberation Sans" font-size="24.5">3</text>
<text x="896.42" y="238.43" font-family="Liberation Sans" font-size="24.5">2</text>
<text x="669.21" y="189.48" font-family="Liberation Sans" font-size="24.5">3</text>
<text x="626.46" y="262.52" font-family="Liberation Sans" font-size="24.5">5</text>
<text x="637.88" y="285.73" font-family="Liberation Sans" font-size="24.5">7</text>
<path d="M608.53 294.43 L610.83 294.43 L610.83 277.07 L609.13 277.07 L604.12 282.53 L604.92 284.53 L608.53 281.03 Z" fill="#000"/>
<text x="443.08" y="219.18" font-family="Liberation Sans" font-size="24.5">2</text>
<text x="458.14" y="219.18" font-family="Liberation Sans" font-size="24.5">3</text>
<text x="479.08" y="228.68" font-family="Liberation Sans" font-size="24.5">2</text>
<text x="494.14" y="228.68" font-family="Liberation Sans" font-size="24.5">3</text>
<path d="M517.14 248.93 L519.44 248.93 L519.44 231.58 L517.74 231.58 L512.74 237.03 L513.54 239.03 L517.14 235.53 Z" fill="#000"/>
<text x="524.66" y="248.93" font-family="Liberation Sans" font-size="24.5">5</text>
<text x="423.15" y="240.18" font-family="Liberation Sans" font-size="24.5">3</text>
<text x="438.37" y="240.18" font-family="Liberation Sans" font-size="24.5">3</text>
<text x="409.02" y="318.03" font-family="Liberation Sans" font-size="24.5">2</text>
<text x="424.45" y="318.03" font-family="Liberation Sans" font-size="24.5">4</text>
<text x="461.27" y="332.68" font-family="Liberation Sans" font-size="24.5">2</text>
<text x="476.7" y="332.68" font-family="Liberation Sans" font-size="24.5">4</text>
<text x="435.31" y="373.32" font-family="Liberation Sans" font-size="24.5">2</text>
<text x="450.75" y="373.32" font-family="Liberation Sans" font-size="24.5">4</text>
<path d="M523.28 399.43 L525.58 399.43 L525.58 382.07 L523.88 382.07 L518.88 387.53 L519.68 389.53 L523.28 386.03 Z" fill="#000"/>
<text x="531.22" y="399.43" font-family="Liberation Sans" font-size="24.5">4</text>
<path d="M556.95 415.03 L559.25 415.03 L559.25 397.68 L557.55 397.68 L552.55 403.13 L553.35 405.13 L556.95 401.63 Z" fill="#000"/>
<path d="M900.75 331.73 L903.05 331.73 L903.05 314.38 L901.35 314.38 L896.35 319.83 L897.15 321.83 L900.75 318.33 Z" fill="#000"/>
<text x="908.29" y="331.73" font-family="Liberation Sans" font-size="24.5">0</text>
<text x="976.52" y="393.68" font-family="Liberation Sans" font-size="24.5">2</text>
<text x="991.25" y="393.68" font-family="Liberation Sans" font-size="24.5">7</text>
<text x="908.51" y="426.55" font-family="Liberation Sans" font-size="24.5">2</text>
<text x="923.44" y="426.55" font-family="Liberation Sans" font-size="24.5">8</text>
<text x="859.72" y="456.88" font-family="Liberation Sans" font-size="24.5">4</text>
<text x="769.68" y="466.12" font-family="Liberation Sans" font-size="24.5">3</text>
<text x="784.59" y="466.12" font-family="Liberation Sans" font-size="24.5">2</text>
<text x="957.61" y="502.7" font-family="Liberation Sans" font-size="24.5">3</text>
<text x="972.79" y="502.7" font-family="Liberation Sans" font-size="24.5">0</text>
<text x="684.69" y="519.12" font-family="Liberation Sans" font-size="24.5">2</text>
<text x="772.01" y="529.92" font-family="Liberation Sans" font-size="24.5">3</text>
<path d="M793.76 529.92 L796.06 529.92 L796.06 512.57 L794.36 512.57 L789.36 518.02 L790.16 520.02 L793.76 516.52 Z" fill="#000"/>
<text x="825.95" y="532.92" font-family="Liberation Sans" font-size="24.5">6</text>
<text x="905.98" y="581.92" font-family="Liberation Sans" font-size="24.5">2</text>
<text x="920.83" y="581.92" font-family="Liberation Sans" font-size="24.5">9</text>
<text x="955.07" y="573.12" font-family="Liberation Sans" font-size="24.5">2</text>
<text x="969.8" y="573.12" font-family="Liberation Sans" font-size="24.5">7</text>
<text x="814.99" y="588.88" font-family="Liberation Sans" font-size="24.5">2</text>
<text x="829.92" y="588.88" font-family="Liberation Sans" font-size="24.5">8</text>
<text x="857.39" y="587.83" font-family="Liberation Sans" font-size="24.5">2</text>
<text x="872.32" y="587.83" font-family="Liberation Sans" font-size="24.5">8</text>
<text transform="translate(430.38 62.4) scale(0.917 1)" x="-16.5" y="10.5" font-family="Liberation Serif" font-size="31">18</text>
<text transform="translate(483.62 52.83) scale(0.905 1)" x="-15.5" y="10.5" font-family="Liberation Serif" font-size="31">20</text>
<text transform="translate(511.2 137.55) scale(0.889 1)" x="-16.5" y="10.5" font-family="Liberation Serif" font-size="31">19</text>
</svg></body></html>
